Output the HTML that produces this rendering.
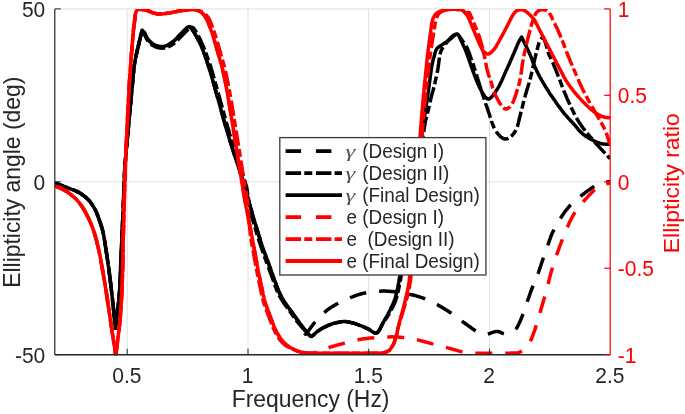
<!DOCTYPE html>
<html><head><meta charset="utf-8"><title>Ellipticity</title>
<style>html,body{margin:0;padding:0;background:#fff}body{width:685px;height:414px;overflow:hidden}</style></head>
<body>
<svg width="685" height="414" viewBox="0 0 685 414" style="display:block">
<rect width="685" height="414" fill="#fff"/>
<line x1="127.2" y1="8.9" x2="127.2" y2="354.7" stroke="#dfdfdf" stroke-width="1"/>
<line x1="248.0" y1="8.9" x2="248.0" y2="354.7" stroke="#dfdfdf" stroke-width="1"/>
<line x1="368.7" y1="8.9" x2="368.7" y2="354.7" stroke="#dfdfdf" stroke-width="1"/>
<line x1="489.5" y1="8.9" x2="489.5" y2="354.7" stroke="#dfdfdf" stroke-width="1"/>
<line x1="54.8" y1="8.9" x2="610.2" y2="8.9" stroke="#dfdfdf" stroke-width="1"/>
<line x1="54.8" y1="181.8" x2="610.2" y2="181.8" stroke="#dfdfdf" stroke-width="1"/>
<clipPath id="c"><rect x="54.8" y="8.9" width="555.4000000000001" height="346.4"/></clipPath>
<g clip-path="url(#c)">
<path d="M54.8,182.8 L55.9,183.3 L57.0,183.7 L58.1,184.2 L59.3,184.6 L60.4,185.0 L61.5,185.5 L62.6,185.9 L63.7,186.4 L64.9,186.8 L66.0,187.2 L67.1,187.7 L68.2,188.1 L69.4,188.5 L70.5,188.9 L71.6,189.3 L72.7,189.7 L73.9,190.1 L75.0,190.6 L76.1,191.0 L77.2,191.6 L78.2,192.1 L79.3,192.7 L80.3,193.3 L81.3,194.0 L82.3,194.7 L83.3,195.4 L84.3,196.1 L85.2,196.9 L86.2,197.7 L87.0,198.5 L87.9,199.3 L88.7,200.2 L89.5,201.1 L90.3,202.0 L91.0,203.0 L91.7,204.0 L92.4,205.0 L93.0,206.0 L93.7,207.1 L94.3,208.1 L94.9,209.1 L95.4,210.2 L95.9,211.3 L96.4,212.4 L96.9,213.5 L97.3,214.6 L97.8,215.7 L98.2,216.9 L98.6,218.0 L99.0,219.1 L99.4,220.2 L99.8,221.4 L100.2,222.5 L100.6,223.7 L100.9,224.8 L101.3,226.0 L101.7,227.1 L102.0,228.3 L102.3,229.4 L102.7,230.6 L102.9,231.7 L103.2,232.9 L103.4,234.1 L103.7,235.3 L103.9,236.5 L104.1,237.7 L104.3,238.8 L104.5,240.0 L104.7,241.2 L104.9,242.4 L105.1,243.6 L105.3,244.8 L105.4,246.0 L105.6,247.1 L105.8,248.3 L106.0,249.5 L106.2,250.7 L106.3,251.9 L106.5,253.1 L106.7,254.3 L106.9,255.5 L107.0,256.7 L107.2,257.8 L107.4,259.0 L107.6,260.2 L107.7,261.4 L107.9,262.6 L108.1,263.8 L108.2,265.0 L108.4,266.2 L108.6,267.4 L108.7,268.6 L108.9,269.8 L109.1,270.9 L109.2,272.1 L109.4,273.3 L109.5,274.5 L109.7,275.7 L109.8,276.9 L110.0,278.1 L110.1,279.3 L110.3,280.5 L110.4,281.7 L110.6,282.9 L110.7,284.1 L110.8,285.3 L111.0,286.5 L111.1,287.6 L111.3,288.8 L111.4,290.0 L111.5,291.2 L111.7,292.4 L111.8,293.6 L111.9,294.8 L112.1,296.0 L112.2,297.2 L112.4,298.4 L112.5,299.6 L112.6,300.8 L112.7,302.0 L112.9,303.2 L113.0,304.4 L113.1,305.6 L113.3,306.8 L113.4,308.0 L113.5,309.2 L113.6,310.4 L113.8,311.5 L113.9,312.7 L114.0,313.9 L114.1,315.1 L114.2,316.3 L114.4,317.5 L114.5,318.7 L114.6,319.9 L114.7,321.1 L114.8,322.3 L115.0,323.5 L115.1,324.7 L115.2,325.9 L115.3,327.1 L115.4,328.3 L115.5,327.1 L115.7,325.9 L115.8,324.7 L116.0,323.5 L116.1,322.3 L116.3,321.1 L116.4,319.9 L116.6,318.7 L116.7,317.5 L116.8,316.3 L117.0,315.2 L117.1,314.0 L117.3,312.8 L117.4,311.6 L117.6,310.4 L117.7,309.2 L117.8,308.0 L118.0,306.8 L118.1,305.6 L118.3,304.4 L118.4,303.2 L118.6,302.0 L118.7,300.8 L118.8,299.6 L119.0,298.4 L119.1,297.2 L119.2,296.0 L119.3,294.8 L119.4,293.6 L119.5,292.4 L119.6,291.2 L119.7,290.0 L119.7,288.8 L119.8,287.6 L119.9,286.4 L119.9,285.2 L120.0,284.0 L120.0,282.8 L120.1,281.6 L120.1,280.4 L120.2,279.2 L120.2,278.0 L120.2,276.8 L120.3,275.6 L120.3,274.4 L120.4,273.2 L120.4,272.0 L120.5,270.8 L120.5,269.6 L120.6,268.4 L120.6,267.2 L120.7,266.0 L120.7,264.8 L120.8,263.6 L120.8,262.4 L120.9,261.1 L121.0,259.9 L121.0,258.7 L121.1,257.5 L121.1,256.3 L121.2,255.1 L121.2,253.9 L121.3,252.7 L121.3,251.5 L121.4,250.3 L121.4,249.1 L121.5,247.9 L121.5,246.7 L121.6,245.5 L121.6,244.3 L121.7,243.1 L121.7,241.9 L121.8,240.7 L121.9,239.5 L121.9,238.3 L122.0,237.1 L122.0,235.9 L122.1,234.7 L122.1,233.5 L122.2,232.3 L122.2,231.1 L122.3,229.9 L122.3,228.7 L122.4,227.5 L122.4,226.3 L122.5,225.1 L122.5,223.9 L122.6,222.7 L122.6,221.5 L122.7,220.3 L122.7,219.1 L122.8,217.9 L122.8,216.7 L122.9,215.4 L122.9,214.2 L123.0,213.0 L123.0,211.8 L123.1,210.6 L123.1,209.4 L123.2,208.2 L123.2,207.0 L123.3,205.8 L123.3,204.6 L123.4,203.4 L123.4,202.2 L123.5,201.0 L123.5,199.8 L123.6,198.6 L123.6,197.4 L123.7,196.2 L123.7,195.0 L123.7,193.8 L123.8,192.6 L123.8,191.4 L123.9,190.2 L123.9,189.0 L124.0,187.8 L124.0,186.6 L124.0,185.4 L124.1,184.2 L124.1,183.0 L124.2,181.8 L124.2,180.6 L124.3,179.4 L124.3,178.2 L124.4,177.0 L124.4,175.8 L124.5,174.6 L124.5,173.4 L124.6,172.1 L124.7,170.9 L124.7,169.7 L124.8,168.5 L124.9,167.3 L124.9,166.1 L125.0,164.9 L125.1,163.7 L125.2,162.5 L125.3,161.3 L125.4,160.1 L125.5,158.9 L125.6,157.7 L125.7,156.5 L125.8,155.3 L126.0,154.1 L126.1,152.9 L126.2,151.7 L126.3,150.5 L126.4,149.3 L126.5,148.2 L126.6,147.0 L126.7,145.8 L126.9,144.6 L127.0,143.4 L127.1,142.2 L127.2,141.0 L127.3,139.8 L127.4,138.6 L127.5,137.4 L127.6,136.2 L127.7,135.0 L127.8,133.8 L127.9,132.6 L128.0,131.4 L128.1,130.2 L128.2,129.0 L128.4,127.8 L128.5,126.6 L128.6,125.4 L128.7,124.2 L128.8,123.0 L128.9,121.8 L129.0,120.6 L129.1,119.4 L129.2,118.2 L129.3,117.0 L129.4,115.8 L129.5,114.6 L129.6,113.4 L129.8,112.2 L129.9,111.0 L130.0,109.8 L130.1,108.6 L130.2,107.4 L130.3,106.2 L130.4,105.0 L130.6,103.8 L130.7,102.6 L130.8,101.4 L130.9,100.2 L131.0,99.0 L131.1,97.8 L131.3,96.6 L131.4,95.4 L131.5,94.2 L131.6,93.0 L131.7,91.8 L131.8,90.6 L132.0,89.4 L132.1,88.2 L132.2,87.0 L132.3,85.8 L132.4,84.6 L132.5,83.4 L132.6,82.2 L132.7,81.0 L132.8,79.8 L132.9,78.6 L133.0,77.4 L133.1,76.2 L133.2,75.0 L133.3,73.8 L133.5,72.6 L133.6,71.4 L133.7,70.2 L133.8,69.0 L134.0,67.8 L134.1,66.6 L134.3,65.4 L134.5,64.3 L134.7,63.1 L134.9,61.9 L135.1,60.7 L135.3,59.5 L135.5,58.3 L135.8,57.1 L136.0,56.0 L136.3,54.8 L136.5,53.6 L136.8,52.4 L137.1,51.3 L137.3,50.1 L137.6,48.9 L137.9,47.8 L138.2,46.6 L138.4,45.4 L138.7,44.2 L139.0,43.1 L139.2,41.9 L139.5,40.7 L139.8,39.5 L140.0,38.4 L140.3,37.2 L140.6,36.0 L140.8,34.8 L141.1,33.7 L141.4,32.5 L141.8,31.4 L142.1,30.2 L143.0,31.1 L143.8,32.0 L144.5,32.9 L145.1,34.0 L145.6,35.1 L146.1,36.2 L146.6,37.3 L147.2,38.3 L147.9,39.3 L148.7,40.2 L149.5,41.1 L150.3,41.9 L151.2,42.7 L152.2,43.5 L153.3,44.2 L154.5,44.8 L155.6,45.4 L156.8,45.8 L157.9,46.1 L159.1,46.3 L160.3,46.5 L161.4,46.5 L162.6,46.5 L163.8,46.4 L165.0,46.1 L166.2,45.8 L167.4,45.3 L168.5,44.7 L169.6,44.1 L170.6,43.4 L171.6,42.7 L172.6,42.0 L173.5,41.3 L174.4,40.5 L175.3,39.7 L176.1,38.8 L177.0,38.0 L177.8,37.1 L178.6,36.2 L179.4,35.3 L180.3,34.4 L181.1,33.5 L181.9,32.7 L182.7,31.8 L183.6,30.9 L184.4,30.0 L185.3,29.2 L186.1,28.3 L187.1,27.6 L188.1,27.0 L189.3,26.6 L190.3,27.3 L191.2,28.1 L191.9,29.1 L192.6,30.1 L193.2,31.1 L193.9,32.1 L194.5,33.1 L195.1,34.1 L195.7,35.2 L196.3,36.2 L196.9,37.3 L197.4,38.3 L198.0,39.4 L198.5,40.5 L199.1,41.6 L199.6,42.6 L200.1,43.7 L200.6,44.8 L201.1,45.9 L201.6,47.0 L202.0,48.1 L202.5,49.2 L203.0,50.3 L203.4,51.5 L203.8,52.6 L204.2,53.7 L204.7,54.8 L205.1,56.0 L205.5,57.1 L205.9,58.2 L206.3,59.4 L206.7,60.5 L207.0,61.6 L207.4,62.8 L207.8,63.9 L208.2,65.1 L208.5,66.2 L208.9,67.3 L209.3,68.5 L209.6,69.6 L209.9,70.8 L210.3,71.9 L210.6,73.1 L210.9,74.3 L211.3,75.4 L211.6,76.6 L211.9,77.7 L212.3,78.9 L212.6,80.0 L212.9,81.2 L213.3,82.3 L213.6,83.5 L213.9,84.6 L214.3,85.8 L214.6,86.9 L214.9,88.1 L215.2,89.3 L215.6,90.4 L215.9,91.6 L216.2,92.7 L216.6,93.9 L216.9,95.0 L217.2,96.2 L217.5,97.3 L217.9,98.5 L218.2,99.6 L218.5,100.8 L218.8,102.0 L219.2,103.1 L219.5,104.3 L219.8,105.4 L220.1,106.6 L220.4,107.7 L220.7,108.9 L221.1,110.1 L221.4,111.2 L221.7,112.4 L222.0,113.5 L222.3,114.7 L222.7,115.8 L223.0,117.0 L223.3,118.2 L223.6,119.3 L223.9,120.5 L224.3,121.6 L224.6,122.8 L224.9,123.9 L225.3,125.1 L225.6,126.2 L225.9,127.4 L226.3,128.6 L226.6,129.7 L226.9,130.9 L227.3,132.0 L227.6,133.2 L228.0,134.3 L228.3,135.5 L228.7,136.6 L229.0,137.7 L229.4,138.9 L229.7,140.0 L230.1,141.2 L230.5,142.3 L230.8,143.5 L231.2,144.6 L231.6,145.8 L231.9,146.9 L232.3,148.0 L232.6,149.2 L233.0,150.3 L233.4,151.5 L233.7,152.6 L234.1,153.8 L234.5,154.9 L234.8,156.1 L235.2,157.2 L235.6,158.3 L235.9,159.5 L236.3,160.6 L236.7,161.8 L237.1,162.9 L237.5,164.0 L237.8,165.2 L238.2,166.3 L238.6,167.5 L239.0,168.6 L239.4,169.7 L239.7,170.9 L240.1,172.0 L240.5,173.2 L240.9,174.3 L241.2,175.4 L241.6,176.6 L242.0,177.7 L242.3,178.9 L242.7,180.0 L243.0,181.2 L243.4,182.3 L243.7,183.5 L244.1,184.6 L244.4,185.8 L244.8,186.9 L245.1,188.1 L245.4,189.2 L245.8,190.4 L246.1,191.5 L246.4,192.7 L246.7,193.8 L247.1,195.0 L247.4,196.1 L247.7,197.3 L248.0,198.5 L248.3,199.6 L248.7,200.8 L249.0,201.9 L249.3,203.1 L249.6,204.2 L250.0,205.4 L250.3,206.6 L250.6,207.7 L251.0,208.9 L251.3,210.0 L251.6,211.2 L252.0,212.3 L252.3,213.5 L252.6,214.6 L253.0,215.8 L253.3,216.9 L253.6,218.1 L254.0,219.2 L254.3,220.4 L254.7,221.5 L255.0,222.7 L255.3,223.8 L255.7,225.0 L256.0,226.1 L256.4,227.3 L256.7,228.4 L257.1,229.6 L257.4,230.7 L257.8,231.9 L258.1,233.0 L258.5,234.2 L258.8,235.3 L259.2,236.5 L259.5,237.6 L259.9,238.8 L260.2,239.9 L260.6,241.1 L261.0,242.2 L261.4,243.3 L261.7,244.5 L262.1,245.6 L262.5,246.8 L262.9,247.9 L263.3,249.0 L263.7,250.2 L264.1,251.3 L264.5,252.4 L264.9,253.5 L265.3,254.7 L265.7,255.8 L266.1,256.9 L266.5,258.1 L266.9,259.2 L267.4,260.3 L267.8,261.4 L268.2,262.6 L268.6,263.7 L269.0,264.8 L269.4,265.9 L269.9,267.1 L270.3,268.2 L270.7,269.3 L271.1,270.4 L271.5,271.6 L271.9,272.7 L272.4,273.8 L272.8,274.9 L273.2,276.1 L273.6,277.2 L274.0,278.3 L274.4,279.5 L274.8,280.6 L275.2,281.7 L275.6,282.9 L276.0,284.0 L276.4,285.1 L276.8,286.3 L277.2,287.4 L277.6,288.5 L278.1,289.6 L278.5,290.8 L279.0,291.9 L279.5,292.9 L280.0,294.0 L280.6,295.1 L281.1,296.1 L281.7,297.2 L282.3,298.2 L283.0,299.3 L283.6,300.3 L284.2,301.3 L284.8,302.3 L285.5,303.3 L286.2,304.3 L286.9,305.3 L287.6,306.3 L288.3,307.3 L289.0,308.2 L289.7,309.2 L290.4,310.2 L291.1,311.1 L291.8,312.1 L292.5,313.1 L293.2,314.0 L293.9,315.0 L294.6,316.0 L295.3,317.0 L296.0,317.9 L296.7,318.9 L297.4,319.9 L298.1,320.9 L298.9,321.8 L299.6,322.8 L300.3,323.7 L301.0,324.7 L301.8,325.6 L302.5,326.6 L302.6,327.9 L302.7,329.1 L302.9,330.2 L303.3,331.3 L303.9,332.4 L304.7,333.6 L305.6,334.2 L306.4,333.4 L307.2,332.4 L307.9,331.5 L308.7,330.5 L309.4,329.5 L310.1,328.6 L310.8,327.6 L311.5,326.6 L312.2,325.7 L312.9,324.7 L313.7,323.8 L314.4,322.8 L315.2,321.9 L316.0,321.0 L316.8,320.1 L317.6,319.2 L318.4,318.4 L319.2,317.5 L320.1,316.6 L320.9,315.8 L321.8,315.0 L322.7,314.1 L323.5,313.3 L324.4,312.5 L325.3,311.7 L326.2,310.9 L327.1,310.1 L328.1,309.4 L329.1,308.7 L330.1,308.0 L331.1,307.3 L332.1,306.7 L333.1,306.1 L334.2,305.5 L335.2,304.9 L336.3,304.3 L337.3,303.8 L338.4,303.2 L339.5,302.7 L340.5,302.1 L341.6,301.6 L342.7,301.1 L343.8,300.6 L344.9,300.1 L346.0,299.6 L347.1,299.1 L348.2,298.6 L349.3,298.1 L350.4,297.6 L351.5,297.2 L352.6,296.8 L353.7,296.3 L354.8,295.9 L356.0,295.5 L357.1,295.1 L358.2,294.7 L359.4,294.4 L360.6,294.0 L361.7,293.7 L362.9,293.4 L364.1,293.1 L365.3,292.9 L366.4,292.6 L367.6,292.4 L368.8,292.2 L370.0,292.1 L371.2,291.9 L372.4,291.8 L373.6,291.6 L374.7,291.5 L375.9,291.4 L377.1,291.3 L378.3,291.3 L379.5,291.2 L380.7,291.2 L382.0,291.1 L383.2,291.1 L384.4,291.1 L385.6,291.1 L386.8,291.2 L388.0,291.2 L389.2,291.3 L390.4,291.4 L391.6,291.5 L392.7,291.6 L393.9,291.7 L395.1,291.8 L396.3,292.0 L397.5,292.1 L398.7,292.3 L399.9,292.5 L401.1,292.6 L402.3,292.8 L403.4,293.0 L404.6,293.3 L405.8,293.5 L407.0,293.7 L408.2,294.0 L409.3,294.2 L410.5,294.5 L411.7,294.7 L412.9,295.0 L414.0,295.3 L415.2,295.6 L416.4,295.9 L417.5,296.3 L418.7,296.6 L419.8,296.9 L420.9,297.3 L422.1,297.7 L423.2,298.1 L424.3,298.5 L425.5,299.0 L426.6,299.5 L427.7,299.9 L428.8,300.4 L429.9,300.9 L431.0,301.4 L432.0,302.0 L433.1,302.5 L434.2,303.0 L435.2,303.6 L436.3,304.2 L437.4,304.7 L438.4,305.3 L439.4,305.9 L440.5,306.5 L441.5,307.1 L442.6,307.7 L443.6,308.3 L444.6,309.0 L445.7,309.6 L446.7,310.2 L447.7,310.8 L448.7,311.5 L449.7,312.2 L450.7,312.8 L451.7,313.5 L452.7,314.2 L453.6,314.9 L454.6,315.6 L455.6,316.4 L456.5,317.1 L457.5,317.8 L458.4,318.5 L459.4,319.2 L460.4,320.0 L461.3,320.7 L462.3,321.4 L463.2,322.1 L464.2,322.8 L465.2,323.5 L466.2,324.2 L467.1,324.9 L468.1,325.6 L469.1,326.3 L470.1,327.0 L471.0,327.7 L472.0,328.4 L473.0,329.1 L474.0,329.8 L475.0,330.5 L476.0,331.2 L477.0,331.8 L478.0,332.4 L479.0,333.0 L480.2,333.5 L481.3,333.9 L482.5,334.2 L483.7,334.4 L484.9,334.4 L486.1,334.4 L487.3,334.2 L488.4,333.9 L489.6,333.5 L490.7,333.1 L491.8,332.7 L492.9,332.3 L494.1,331.9 L495.3,331.6 L496.4,331.4 L497.6,331.4 L498.8,331.7 L500.0,332.1 L501.1,332.6 L502.2,333.1 L503.3,333.5 L504.5,333.8 L505.6,334.0 L506.8,333.9 L508.0,333.7 L509.2,333.4 L510.3,332.9 L511.4,332.4 L512.4,331.7 L513.4,331.1 L514.4,330.3 L515.4,329.6 L516.2,328.7 L516.9,327.7 L517.5,326.6 L518.0,325.6 L518.6,324.5 L519.1,323.4 L519.6,322.3 L520.1,321.2 L520.6,320.1 L521.1,319.0 L521.5,317.9 L522.0,316.8 L522.4,315.7 L522.8,314.6 L523.3,313.5 L523.7,312.3 L524.1,311.2 L524.5,310.1 L524.9,308.9 L525.3,307.8 L525.6,306.7 L526.0,305.5 L526.4,304.4 L526.8,303.2 L527.2,302.1 L527.5,301.0 L527.9,299.8 L528.3,298.7 L528.7,297.6 L529.1,296.4 L529.5,295.3 L529.9,294.1 L530.3,293.0 L530.7,291.9 L531.1,290.8 L531.5,289.7 L532.0,288.5 L532.4,287.4 L532.9,286.3 L533.4,285.2 L533.8,284.1 L534.3,283.0 L534.8,281.9 L535.2,280.8 L535.7,279.7 L536.2,278.6 L536.6,277.5 L537.0,276.3 L537.5,275.2 L537.9,274.1 L538.3,273.0 L538.7,271.8 L539.0,270.7 L539.4,269.5 L539.8,268.4 L540.2,267.3 L540.6,266.1 L541.0,265.0 L541.3,263.9 L541.7,262.7 L542.1,261.6 L542.5,260.4 L542.9,259.3 L543.2,258.2 L543.6,257.0 L544.0,255.9 L544.4,254.8 L544.8,253.6 L545.2,252.5 L545.6,251.4 L546.0,250.2 L546.4,249.1 L546.8,248.0 L547.2,246.8 L547.6,245.7 L548.0,244.6 L548.4,243.4 L548.8,242.3 L549.2,241.2 L549.6,240.0 L550.0,238.9 L550.4,237.8 L550.8,236.7 L551.3,235.5 L551.7,234.4 L552.2,233.3 L552.7,232.2 L553.2,231.1 L553.7,230.1 L554.2,229.0 L554.8,227.9 L555.4,226.9 L555.9,225.8 L556.5,224.8 L557.1,223.7 L557.7,222.7 L558.4,221.7 L559.0,220.6 L559.6,219.6 L560.3,218.6 L561.0,217.6 L561.6,216.6 L562.3,215.6 L563.0,214.6 L563.7,213.6 L564.4,212.6 L565.1,211.6 L565.8,210.6 L566.5,209.7 L567.3,208.7 L568.1,207.8 L568.8,206.9 L569.6,206.0 L570.4,205.1 L571.3,204.2 L572.1,203.4 L573.0,202.6 L573.9,201.8 L574.8,201.0 L575.7,200.2 L576.6,199.4 L577.6,198.6 L578.5,197.9 L579.4,197.1 L580.4,196.4 L581.3,195.7 L582.3,194.9 L583.2,194.2 L584.2,193.5 L585.1,192.7 L586.1,192.0 L587.0,191.3 L588.0,190.6 L589.0,189.9 L590.0,189.2 L591.0,188.5 L592.0,187.8 L593.0,187.2 L594.0,186.6 L595.0,185.9 L596.1,185.4 L597.2,184.9 L598.2,184.4 L599.4,184.0 L600.5,183.6 L601.6,183.2 L602.8,182.9 L604.0,182.6 L605.2,182.4 L606.4,182.1 L607.6,181.9 L608.8,181.7 L610.0,181.5" fill="none" stroke="#000000" stroke-width="3.5" stroke-linejoin="round" stroke-dasharray="17 13" stroke-dashoffset="6.8"/>
<path d="M54.8,182.8 L55.9,183.3 L57.0,183.7 L58.1,184.2 L59.3,184.6 L60.4,185.0 L61.5,185.5 L62.6,185.9 L63.7,186.4 L64.9,186.8 L66.0,187.2 L67.1,187.7 L68.2,188.1 L69.4,188.5 L70.5,188.9 L71.6,189.3 L72.7,189.7 L73.9,190.1 L75.0,190.6 L76.1,191.0 L77.2,191.6 L78.2,192.1 L79.3,192.7 L80.3,193.3 L81.3,194.0 L82.3,194.7 L83.3,195.4 L84.3,196.1 L85.2,196.9 L86.2,197.7 L87.0,198.5 L87.9,199.3 L88.7,200.2 L89.5,201.1 L90.3,202.0 L91.0,203.0 L91.7,204.0 L92.4,205.0 L93.0,206.0 L93.7,207.1 L94.3,208.1 L94.9,209.1 L95.4,210.2 L95.9,211.3 L96.4,212.4 L96.9,213.5 L97.3,214.6 L97.8,215.7 L98.2,216.9 L98.6,218.0 L99.0,219.1 L99.4,220.2 L99.8,221.4 L100.2,222.5 L100.6,223.7 L100.9,224.8 L101.3,226.0 L101.7,227.1 L102.0,228.3 L102.3,229.4 L102.7,230.6 L102.9,231.7 L103.2,232.9 L103.4,234.1 L103.7,235.3 L103.9,236.5 L104.1,237.7 L104.3,238.8 L104.5,240.0 L104.7,241.2 L104.9,242.4 L105.1,243.6 L105.3,244.8 L105.4,246.0 L105.6,247.1 L105.8,248.3 L106.0,249.5 L106.2,250.7 L106.3,251.9 L106.5,253.1 L106.7,254.3 L106.9,255.5 L107.0,256.7 L107.2,257.8 L107.4,259.0 L107.6,260.2 L107.7,261.4 L107.9,262.6 L108.1,263.8 L108.2,265.0 L108.4,266.2 L108.6,267.4 L108.7,268.6 L108.9,269.8 L109.1,270.9 L109.2,272.1 L109.4,273.3 L109.5,274.5 L109.7,275.7 L109.8,276.9 L110.0,278.1 L110.1,279.3 L110.3,280.5 L110.4,281.7 L110.6,282.9 L110.7,284.1 L110.8,285.3 L111.0,286.5 L111.1,287.6 L111.3,288.8 L111.4,290.0 L111.5,291.2 L111.7,292.4 L111.8,293.6 L111.9,294.8 L112.1,296.0 L112.2,297.2 L112.4,298.4 L112.5,299.6 L112.6,300.8 L112.7,302.0 L112.9,303.2 L113.0,304.4 L113.1,305.6 L113.3,306.8 L113.4,308.0 L113.5,309.2 L113.6,310.4 L113.8,311.5 L113.9,312.7 L114.0,313.9 L114.1,315.1 L114.2,316.3 L114.4,317.5 L114.5,318.7 L114.6,319.9 L114.7,321.1 L114.8,322.3 L115.0,323.5 L115.1,324.7 L115.2,325.9 L115.3,327.1 L115.4,328.3 L115.5,327.1 L115.7,325.9 L115.8,324.7 L116.0,323.5 L116.1,322.3 L116.3,321.1 L116.4,319.9 L116.6,318.7 L116.7,317.5 L116.8,316.3 L117.0,315.2 L117.1,314.0 L117.3,312.8 L117.4,311.6 L117.6,310.4 L117.7,309.2 L117.8,308.0 L118.0,306.8 L118.1,305.6 L118.3,304.4 L118.4,303.2 L118.6,302.0 L118.7,300.8 L118.8,299.6 L119.0,298.4 L119.1,297.2 L119.2,296.0 L119.3,294.8 L119.4,293.6 L119.5,292.4 L119.6,291.2 L119.7,290.0 L119.7,288.8 L119.8,287.6 L119.9,286.4 L119.9,285.2 L120.0,284.0 L120.0,282.8 L120.1,281.6 L120.1,280.4 L120.2,279.2 L120.2,278.0 L120.2,276.8 L120.3,275.6 L120.3,274.4 L120.4,273.2 L120.4,272.0 L120.5,270.8 L120.5,269.6 L120.6,268.4 L120.6,267.2 L120.7,266.0 L120.7,264.8 L120.8,263.6 L120.8,262.4 L120.9,261.1 L121.0,259.9 L121.0,258.7 L121.1,257.5 L121.1,256.3 L121.2,255.1 L121.2,253.9 L121.3,252.7 L121.3,251.5 L121.4,250.3 L121.4,249.1 L121.5,247.9 L121.5,246.7 L121.6,245.5 L121.6,244.3 L121.7,243.1 L121.7,241.9 L121.8,240.7 L121.9,239.5 L121.9,238.3 L122.0,237.1 L122.0,235.9 L122.1,234.7 L122.1,233.5 L122.2,232.3 L122.2,231.1 L122.3,229.9 L122.3,228.7 L122.4,227.5 L122.4,226.3 L122.5,225.1 L122.5,223.9 L122.6,222.7 L122.6,221.5 L122.7,220.3 L122.7,219.1 L122.8,217.9 L122.8,216.7 L122.9,215.4 L122.9,214.2 L123.0,213.0 L123.0,211.8 L123.1,210.6 L123.1,209.4 L123.2,208.2 L123.2,207.0 L123.3,205.8 L123.3,204.6 L123.4,203.4 L123.4,202.2 L123.5,201.0 L123.5,199.8 L123.6,198.6 L123.6,197.4 L123.7,196.2 L123.7,195.0 L123.7,193.8 L123.8,192.6 L123.8,191.4 L123.9,190.2 L123.9,189.0 L124.0,187.8 L124.0,186.6 L124.0,185.4 L124.1,184.2 L124.1,183.0 L124.2,181.8 L124.2,180.6 L124.3,179.4 L124.3,178.2 L124.4,177.0 L124.4,175.8 L124.5,174.6 L124.5,173.4 L124.6,172.1 L124.7,170.9 L124.7,169.7 L124.8,168.5 L124.9,167.3 L124.9,166.1 L125.0,164.9 L125.1,163.7 L125.2,162.5 L125.3,161.3 L125.4,160.1 L125.5,158.9 L125.6,157.7 L125.7,156.5 L125.8,155.3 L126.0,154.1 L126.1,152.9 L126.2,151.7 L126.3,150.5 L126.4,149.3 L126.5,148.2 L126.6,147.0 L126.7,145.8 L126.9,144.6 L127.0,143.4 L127.1,142.2 L127.2,141.0 L127.3,139.8 L127.4,138.6 L127.5,137.4 L127.6,136.2 L127.7,135.0 L127.8,133.8 L127.9,132.6 L128.0,131.4 L128.1,130.2 L128.2,129.0 L128.4,127.8 L128.5,126.6 L128.6,125.4 L128.7,124.2 L128.8,123.0 L128.9,121.8 L129.0,120.6 L129.1,119.4 L129.2,118.2 L129.3,117.0 L129.4,115.8 L129.5,114.6 L129.6,113.4 L129.8,112.2 L129.9,111.0 L130.0,109.8 L130.1,108.6 L130.2,107.4 L130.3,106.2 L130.4,105.0 L130.6,103.8 L130.7,102.6 L130.8,101.4 L130.9,100.2 L131.0,99.0 L131.1,97.8 L131.3,96.6 L131.4,95.4 L131.5,94.2 L131.6,93.0 L131.7,91.8 L131.8,90.6 L132.0,89.4 L132.1,88.2 L132.2,87.0 L132.3,85.8 L132.4,84.6 L132.5,83.4 L132.6,82.2 L132.7,81.0 L132.8,79.8 L132.9,78.6 L133.0,77.4 L133.1,76.2 L133.2,75.0 L133.3,73.8 L133.5,72.6 L133.6,71.4 L133.7,70.2 L133.8,69.0 L134.0,67.8 L134.1,66.6 L134.3,65.4 L134.5,64.3 L134.7,63.1 L134.9,61.9 L135.1,60.7 L135.3,59.6 L135.5,58.4 L135.8,57.3 L136.0,56.2 L136.3,55.0 L136.5,53.9 L136.8,52.8 L137.1,51.6 L137.3,50.5 L137.6,49.4 L137.9,48.3 L138.2,47.2 L138.4,46.0 L138.7,44.9 L139.0,43.8 L139.2,42.6 L139.5,41.5 L139.8,40.4 L140.0,39.3 L140.3,38.1 L140.6,37.0 L140.8,35.9 L141.1,34.8 L141.4,33.7 L141.8,32.6 L142.1,31.5 L143.0,32.5 L143.8,33.6 L144.5,34.7 L145.1,35.8 L145.6,36.9 L146.1,38.0 L146.6,39.1 L147.3,40.1 L148.0,41.1 L148.8,42.0 L149.6,42.9 L150.5,43.7 L151.5,44.5 L152.5,45.2 L153.7,45.9 L154.9,46.6 L156.1,47.1 L157.3,47.5 L158.5,47.8 L159.7,48.0 L160.9,48.1 L162.1,48.2 L163.3,48.1 L164.6,48.0 L165.8,47.8 L167.0,47.4 L168.3,46.9 L169.5,46.3 L170.6,45.7 L171.7,45.0 L172.7,44.3 L173.7,43.6 L174.7,42.9 L175.6,42.1 L176.5,41.3 L177.4,40.4 L178.3,39.5 L179.1,38.6 L180.0,37.7 L180.8,36.8 L181.7,35.9 L182.5,35.0 L183.4,34.2 L184.4,33.2 L185.3,32.2 L186.3,31.2 L187.3,30.3 L188.3,29.3 L189.4,28.4 L190.6,27.7 L192.0,27.2 L193.1,27.8 L193.9,28.6 L194.6,29.5 L195.2,30.4 L195.8,31.4 L196.4,32.4 L196.9,33.4 L197.5,34.4 L198.1,35.4 L198.6,36.4 L199.1,37.4 L199.6,38.5 L200.2,39.5 L200.6,40.6 L201.1,41.6 L201.6,42.7 L202.1,43.7 L202.6,44.8 L203.1,45.9 L203.6,47.0 L204.0,48.1 L204.5,49.2 L204.9,50.3 L205.4,51.5 L205.8,52.6 L206.2,53.7 L206.6,54.8 L207.0,56.0 L207.4,57.1 L207.8,58.2 L208.2,59.4 L208.6,60.5 L209.0,61.6 L209.4,62.8 L209.8,63.9 L210.1,65.1 L210.5,66.2 L210.9,67.3 L211.2,68.5 L211.6,69.6 L211.9,70.8 L212.2,71.9 L212.6,73.1 L212.9,74.3 L213.2,75.4 L213.6,76.6 L213.9,77.7 L214.2,78.9 L214.5,80.0 L214.9,81.2 L215.2,82.3 L215.5,83.5 L215.9,84.6 L216.2,85.8 L216.5,86.9 L216.8,88.1 L217.2,89.3 L217.5,90.4 L217.8,91.6 L218.2,92.7 L218.5,93.9 L218.8,95.0 L219.1,96.2 L219.5,97.3 L219.8,98.5 L220.1,99.6 L220.4,100.8 L220.7,102.0 L221.1,103.1 L221.4,104.3 L221.7,105.4 L222.0,106.6 L222.3,107.7 L222.7,108.9 L223.0,110.1 L223.3,111.2 L223.6,112.4 L223.9,113.5 L224.2,114.7 L224.6,115.8 L224.9,117.0 L225.2,118.2 L225.5,119.3 L225.8,120.5 L226.2,121.6 L226.5,122.8 L226.8,123.9 L227.1,125.1 L227.5,126.2 L227.8,127.4 L228.1,128.6 L228.5,129.7 L228.8,130.9 L229.2,132.0 L229.5,133.2 L229.8,134.3 L230.2,135.5 L230.5,136.6 L230.9,137.7 L231.3,138.9 L231.6,140.0 L232.0,141.2 L232.3,142.3 L232.7,143.5 L233.1,144.6 L233.4,145.8 L233.8,146.9 L234.1,148.0 L234.5,149.2 L234.9,150.3 L235.2,151.5 L235.6,152.6 L236.0,153.8 L236.3,154.9 L236.7,156.1 L237.0,157.2 L237.4,158.3 L237.8,159.5 L238.2,160.6 L238.5,161.8 L238.9,162.9 L239.3,164.0 L239.7,165.2 L240.0,166.3 L240.4,167.5 L240.8,168.6 L241.2,169.7 L241.6,170.9 L241.9,172.0 L242.3,173.2 L242.7,174.3 L243.0,175.4 L243.4,176.6 L243.8,177.7 L244.1,178.9 L244.5,180.0 L244.9,181.2 L245.2,182.3 L245.5,183.5 L245.9,184.6 L246.2,185.8 L246.6,186.9 L246.8,188.1 L247.0,189.2 L247.2,190.4 L247.4,191.5 L247.5,192.7 L247.7,193.8 L247.9,195.0 L248.1,196.1 L248.2,197.3 L248.4,198.5 L248.6,199.6 L248.7,200.8 L248.9,201.9 L249.1,203.1 L249.3,204.2 L249.4,205.4 L249.6,206.6 L249.8,207.7 L249.9,208.9 L250.1,210.0 L250.3,211.2 L250.5,212.3 L250.8,213.5 L251.1,214.6 L251.5,215.8 L251.8,216.9 L252.1,218.1 L252.5,219.2 L252.8,220.4 L253.2,221.5 L253.5,222.7 L253.8,223.8 L254.2,225.0 L254.5,226.1 L254.9,227.3 L255.2,228.4 L255.6,229.6 L255.9,230.7 L256.3,231.9 L256.6,233.0 L257.0,234.2 L257.3,235.3 L257.7,236.5 L258.0,237.6 L258.4,238.8 L258.7,239.9 L259.1,241.1 L259.5,242.2 L259.9,243.3 L260.2,244.5 L260.6,245.6 L261.0,246.8 L261.4,247.9 L261.8,249.0 L262.2,250.2 L262.6,251.3 L263.0,252.4 L263.4,253.5 L263.8,254.7 L264.2,255.8 L264.6,256.9 L265.0,258.1 L265.4,259.2 L265.9,260.3 L266.3,261.4 L266.7,262.6 L267.1,263.7 L267.5,264.8 L267.9,265.9 L268.4,267.1 L268.8,268.2 L269.2,269.3 L269.6,270.4 L270.0,271.6 L270.4,272.7 L270.9,273.8 L271.3,274.9 L271.7,276.1 L272.1,277.2 L272.5,278.3 L272.9,279.5 L273.3,280.6 L273.7,281.7 L274.1,282.9 L274.5,284.0 L274.9,285.1 L275.3,286.3 L275.7,287.4 L276.1,288.5 L276.6,289.6 L277.0,290.8 L277.5,291.9 L278.0,292.9 L278.5,294.0 L279.1,295.1 L279.6,296.1 L280.2,297.2 L280.8,298.2 L281.5,299.3 L282.1,300.3 L282.7,301.3 L283.3,302.3 L284.0,303.3 L284.7,304.3 L285.4,305.3 L286.1,306.3 L286.8,307.3 L287.5,308.2 L288.2,309.2 L288.9,310.2 L289.6,311.1 L290.3,312.1 L291.0,313.1 L291.7,314.0 L292.4,315.0 L293.1,316.0 L293.8,317.0 L294.5,317.9 L295.2,318.9 L295.9,319.9 L296.6,320.9 L297.4,321.8 L298.1,322.8 L298.8,323.7 L299.7,324.7 L300.5,325.6 L301.4,326.6 L302.2,327.5 L303.1,328.5 L303.9,329.4 L304.8,330.4 L305.7,331.3 L306.5,332.2 L307.4,333.2 L308.3,334.1 L309.2,335.0 L310.1,335.9 L311.2,336.4 L312.3,336.0 L313.3,335.2 L314.1,334.4 L315.0,333.5 L315.9,332.7 L316.8,332.0 L317.7,331.2 L318.7,330.5 L319.7,329.9 L320.7,329.2 L321.8,328.6 L322.8,328.0 L323.9,327.5 L325.0,326.9 L326.1,326.4 L327.1,325.9 L328.2,325.4 L329.3,325.0 L330.5,324.5 L331.6,324.1 L332.7,323.7 L333.9,323.3 L335.0,323.0 L336.2,322.7 L337.4,322.5 L338.6,322.3 L339.7,322.0 L340.9,321.8 L342.1,321.7 L343.3,321.6 L344.5,321.5 L345.7,321.6 L346.9,321.8 L348.1,321.9 L349.3,322.1 L350.4,322.4 L351.6,322.7 L352.7,323.0 L353.9,323.3 L355.1,323.6 L356.2,324.0 L357.3,324.4 L358.5,324.8 L359.6,325.3 L360.8,325.7 L361.9,326.1 L363.0,326.6 L364.1,327.1 L365.3,327.6 L366.3,328.1 L367.4,328.6 L368.5,329.1 L369.5,329.7 L370.5,330.4 L371.5,331.1 L372.5,331.8 L373.5,332.4 L374.6,332.9 L375.8,333.1 L377.0,332.8 L378.0,332.1 L378.7,331.1 L379.3,330.1 L379.9,329.1 L380.4,328.0 L381.0,326.9 L381.6,325.8 L382.2,324.7 L382.8,323.7 L383.5,322.6 L384.1,321.6 L384.8,320.5 L385.5,319.5 L386.2,318.5 L386.8,317.4 L387.5,316.4 L388.2,315.3 L388.8,314.3 L389.4,313.2 L390.1,312.2 L390.7,311.1 L391.3,310.0 L391.8,308.9 L392.3,307.9 L392.9,306.8 L393.4,305.7 L393.9,304.6 L394.4,303.5 L394.9,302.4 L395.3,301.3 L395.7,300.2 L396.1,299.0 L396.5,297.9 L396.8,296.7 L397.1,295.5 L397.4,294.4 L397.7,293.2 L398.0,292.0 L398.3,290.9 L398.5,289.7 L398.8,288.5 L399.0,287.3 L399.3,286.2 L399.5,285.0 L399.8,283.8 L400.0,282.6 L400.2,281.5 L400.4,280.3 L400.6,279.1 L400.8,277.9 L401.0,276.7 L401.2,275.5 L401.4,274.4 L401.6,273.2 L401.8,272.0 L401.9,270.8 L402.1,269.6 L402.3,268.4 L402.5,267.2 L402.7,266.1 L402.9,264.9 L403.1,263.7 L403.2,262.5 L403.4,261.3 L403.6,260.1 L403.8,258.9 L404.0,257.8 L404.2,256.6 L404.4,255.4 L404.5,254.2 L404.7,253.0 L404.9,251.8 L405.1,250.6 L405.3,249.4 L405.5,248.3 L405.6,247.1 L405.8,245.9 L406.0,244.7 L406.2,243.5 L406.4,242.3 L406.6,241.1 L406.8,240.0 L406.9,238.8 L407.1,237.6 L407.3,236.4 L407.5,235.2 L407.7,234.0 L407.9,232.8 L408.1,231.7 L408.2,230.5 L408.4,229.3 L408.6,228.1 L408.8,226.9 L409.0,225.7 L409.2,224.5 L409.3,223.3 L409.5,222.2 L409.7,221.0 L409.9,219.8 L410.1,218.6 L410.3,217.4 L410.5,216.2 L410.6,215.0 L410.8,213.9 L411.0,212.7 L411.2,211.5 L411.4,210.3 L411.6,209.1 L411.8,207.9 L411.9,206.7 L412.1,205.6 L412.3,204.4 L412.5,203.2 L412.7,202.0 L412.9,200.8 L413.1,199.6 L413.2,198.4 L413.4,197.2 L413.6,196.1 L413.8,194.9 L414.0,193.7 L414.2,192.5 L414.4,191.3 L414.5,190.1 L414.7,188.9 L414.9,187.8 L415.1,186.6 L415.3,185.4 L415.5,184.2 L415.7,183.0 L415.8,181.8 L416.0,180.6 L416.2,179.5 L416.4,178.3 L416.6,177.1 L416.8,175.9 L417.0,174.7 L417.1,173.5 L417.3,172.3 L417.5,171.2 L417.7,170.0 L417.9,168.8 L418.1,167.6 L418.3,166.4 L418.5,165.2 L418.6,164.0 L418.8,162.9 L419.0,161.7 L419.2,160.5 L419.4,159.3 L419.6,158.1 L419.8,156.9 L420.0,155.7 L420.1,154.5 L420.3,153.4 L420.5,152.2 L420.7,151.0 L420.9,149.8 L421.1,148.6 L421.3,147.4 L421.4,146.2 L421.6,145.1 L421.8,143.9 L422.0,142.7 L422.2,141.5 L422.4,140.3 L422.6,139.1 L422.8,137.9 L422.9,136.8 L423.1,135.6 L423.3,134.4 L423.5,133.2 L423.7,132.0 L423.9,130.8 L424.1,129.6 L424.2,128.5 L424.4,127.3 L424.6,126.1 L424.8,124.9 L425.0,123.7 L425.2,122.5 L425.3,121.3 L425.7,120.2 L426.0,119.0 L426.3,117.9 L426.6,116.7 L426.9,115.5 L427.2,114.4 L427.5,113.2 L427.8,112.0 L428.1,110.9 L428.4,109.7 L428.6,108.5 L428.9,107.4 L429.2,106.2 L429.4,105.0 L429.7,103.8 L429.9,102.7 L430.2,101.5 L430.5,100.3 L430.7,99.1 L431.0,98.0 L431.3,96.8 L431.6,95.6 L431.9,94.5 L432.2,93.3 L432.5,92.2 L432.9,91.0 L433.2,89.8 L433.5,88.7 L433.8,87.5 L434.1,86.4 L434.4,85.2 L434.7,84.0 L435.0,82.8 L435.2,81.7 L435.5,80.5 L435.7,79.3 L436.0,78.2 L436.3,77.0 L436.5,75.8 L436.8,74.6 L437.0,73.5 L437.2,72.3 L437.5,71.1 L437.7,69.9 L437.9,68.7 L438.1,67.5 L438.2,66.4 L438.4,65.2 L438.6,64.0 L438.7,62.8 L438.9,61.6 L439.0,60.4 L439.2,59.2 L439.4,58.0 L439.6,56.8 L439.8,55.6 L440.0,54.5 L440.3,53.3 L440.6,52.1 L441.0,51.0 L441.5,49.9 L442.1,48.8 L442.8,47.8 L443.5,46.8 L444.2,45.9 L444.9,44.9 L445.6,44.0 L446.4,43.0 L447.1,42.1 L447.8,41.2 L448.5,40.2 L449.3,39.3 L450.1,38.4 L451.0,37.5 L451.9,36.6 L452.9,35.8 L454.0,35.1 L455.0,34.7 L456.1,34.5 L457.2,34.8 L458.3,35.4 L459.3,36.3 L460.2,37.3 L460.8,38.2 L461.5,39.2 L462.1,40.2 L462.8,41.2 L463.5,42.2 L464.2,43.2 L464.8,44.2 L465.5,45.2 L466.1,46.2 L466.7,47.3 L467.3,48.4 L467.8,49.4 L468.2,50.6 L468.7,51.7 L469.1,52.8 L469.5,53.9 L469.9,55.1 L470.3,56.2 L470.7,57.3 L471.1,58.5 L471.5,59.6 L471.9,60.7 L472.3,61.9 L472.7,63.0 L473.1,64.2 L473.5,65.3 L473.8,66.4 L474.2,67.6 L474.6,68.7 L474.9,69.9 L475.3,71.0 L475.7,72.2 L476.0,73.3 L476.4,74.4 L476.8,75.6 L477.1,76.7 L477.5,77.9 L477.8,79.0 L478.2,80.2 L478.5,81.3 L478.9,82.5 L479.2,83.6 L479.6,84.8 L480.0,85.9 L480.3,87.1 L480.7,88.2 L481.0,89.4 L481.4,90.5 L481.7,91.7 L482.1,92.8 L482.5,94.0 L482.9,95.1 L483.2,96.2 L483.6,97.4 L484.0,98.5 L484.4,99.7 L484.8,100.8 L485.2,101.9 L485.6,103.1 L485.9,104.2 L486.3,105.4 L486.7,106.5 L487.1,107.6 L487.5,108.8 L487.8,109.9 L488.2,111.1 L488.6,112.2 L489.0,113.3 L489.4,114.5 L489.7,115.6 L490.1,116.8 L490.5,117.9 L490.9,119.0 L491.3,120.2 L491.6,121.3 L492.0,122.5 L492.4,123.6 L492.8,124.7 L493.2,125.7 L493.6,126.8 L494.1,127.9 L494.6,128.9 L495.2,129.9 L495.8,131.0 L496.5,132.0 L497.2,133.0 L498.1,134.0 L499.0,135.1 L500.0,136.1 L501.0,137.0 L502.0,137.8 L503.1,138.4 L504.2,138.8 L505.2,139.0 L506.2,138.9 L507.3,138.7 L508.3,138.3 L509.3,137.7 L510.4,136.9 L511.4,136.1 L512.4,135.1 L513.3,134.0 L514.2,132.9 L514.9,131.8 L515.6,130.7 L516.2,129.6 L516.7,128.5 L517.1,127.4 L517.5,126.3 L517.8,125.1 L518.1,124.0 L518.4,122.9 L518.6,121.8 L518.9,120.6 L519.2,119.5 L519.4,118.3 L519.7,117.2 L520.0,116.0 L520.3,114.8 L520.6,113.7 L520.9,112.5 L521.2,111.3 L521.5,110.2 L521.8,109.0 L522.1,107.8 L522.4,106.7 L522.7,105.5 L522.9,104.3 L523.2,103.2 L523.5,102.0 L523.8,100.8 L524.1,99.7 L524.4,98.5 L524.8,97.3 L525.1,96.2 L525.4,95.0 L525.7,93.9 L526.1,92.7 L526.4,91.6 L526.8,90.4 L527.1,89.3 L527.5,88.1 L527.8,87.0 L528.2,85.8 L528.5,84.7 L528.9,83.5 L529.2,82.4 L529.5,81.2 L529.9,80.1 L530.2,78.9 L530.5,77.7 L530.8,76.6 L531.1,75.4 L531.3,74.2 L531.6,73.1 L531.9,71.9 L532.2,70.7 L532.4,69.5 L532.7,68.4 L533.0,67.2 L533.2,66.0 L533.5,64.9 L533.8,63.7 L534.0,62.5 L534.3,61.3 L534.5,60.2 L534.8,59.0 L535.1,57.8 L535.4,56.6 L535.6,55.5 L535.9,54.3 L536.2,53.1 L536.5,52.0 L536.8,50.8 L537.1,49.7 L537.4,48.5 L537.7,47.3 L538.1,46.2 L538.4,45.0 L538.7,43.9 L539.0,42.7 L539.4,41.6 L540.0,40.5 L540.7,39.5 L541.5,38.5 L542.3,37.7 L543.3,37.0 L543.7,38.1 L544.2,39.2 L544.6,40.4 L545.0,41.5 L545.4,42.6 L545.8,43.8 L546.1,44.9 L546.4,46.1 L546.7,47.3 L547.0,48.4 L547.3,49.6 L547.7,50.8 L548.0,51.9 L548.4,53.0 L548.8,54.2 L549.3,55.3 L549.9,56.3 L550.4,57.4 L551.0,58.5 L551.5,59.6 L552.0,60.7 L552.4,61.8 L552.9,62.9 L553.4,64.0 L553.8,65.1 L554.3,66.2 L554.7,67.3 L555.2,68.4 L555.7,69.6 L556.1,70.7 L556.6,71.8 L557.0,72.9 L557.5,74.0 L557.9,75.1 L558.3,76.2 L558.8,77.4 L559.2,78.5 L559.6,79.6 L560.1,80.7 L560.5,81.9 L560.9,83.0 L561.3,84.1 L561.8,85.2 L562.2,86.4 L562.6,87.5 L563.0,88.6 L563.5,89.7 L563.9,90.9 L564.4,92.0 L564.8,93.1 L565.3,94.2 L565.7,95.3 L566.2,96.4 L566.7,97.5 L567.1,98.6 L567.6,99.7 L568.1,100.8 L568.6,101.9 L569.2,103.0 L569.7,104.1 L570.2,105.2 L570.7,106.3 L571.2,107.4 L571.7,108.5 L572.2,109.5 L572.8,110.6 L573.3,111.7 L573.8,112.8 L574.4,113.9 L574.9,114.9 L575.5,116.0 L576.0,117.1 L576.6,118.1 L577.2,119.2 L577.8,120.2 L578.4,121.2 L579.1,122.3 L579.7,123.3 L580.4,124.3 L581.1,125.3 L581.8,126.2 L582.5,127.2 L583.2,128.2 L583.9,129.1 L584.7,130.1 L585.4,131.0 L586.2,132.0 L586.9,132.9 L587.7,133.8 L588.5,134.8 L589.2,135.7 L590.0,136.6 L590.8,137.5 L591.6,138.4 L592.4,139.3 L593.2,140.3 L593.9,141.2 L594.7,142.1 L595.5,143.0 L596.3,143.9 L597.1,144.8 L598.0,145.6 L598.8,146.5 L599.6,147.4 L600.4,148.3 L601.2,149.2 L602.1,150.0 L602.9,150.9 L603.7,151.8 L604.5,152.7 L605.3,153.6 L606.2,154.4 L607.0,155.3 L607.8,156.2 L608.6,157.1 L609.5,157.9 L610.3,158.8" fill="none" stroke="#000000" stroke-width="3.5" stroke-linejoin="round" stroke-dasharray="15.5 3.2 8 3.6" stroke-dashoffset="0.0"/>
<path d="M54.8,182.8 L55.9,183.3 L57.0,183.7 L58.1,184.2 L59.3,184.6 L60.4,185.0 L61.5,185.5 L62.6,185.9 L63.7,186.4 L64.9,186.8 L66.0,187.2 L67.1,187.7 L68.2,188.1 L69.4,188.5 L70.5,188.9 L71.6,189.3 L72.7,189.7 L73.9,190.1 L75.0,190.6 L76.1,191.0 L77.2,191.6 L78.2,192.1 L79.3,192.7 L80.3,193.3 L81.3,194.0 L82.3,194.7 L83.3,195.4 L84.3,196.1 L85.2,196.9 L86.2,197.7 L87.0,198.5 L87.9,199.3 L88.7,200.2 L89.5,201.1 L90.3,202.0 L91.0,203.0 L91.7,204.0 L92.4,205.0 L93.0,206.0 L93.7,207.1 L94.3,208.1 L94.9,209.1 L95.4,210.2 L95.9,211.3 L96.4,212.4 L96.9,213.5 L97.3,214.6 L97.8,215.7 L98.2,216.9 L98.6,218.0 L99.0,219.1 L99.4,220.2 L99.8,221.4 L100.2,222.5 L100.6,223.7 L100.9,224.8 L101.3,226.0 L101.7,227.1 L102.0,228.3 L102.3,229.4 L102.7,230.6 L102.9,231.7 L103.2,232.9 L103.4,234.1 L103.7,235.3 L103.9,236.5 L104.1,237.7 L104.3,238.8 L104.5,240.0 L104.7,241.2 L104.9,242.4 L105.1,243.6 L105.3,244.8 L105.4,246.0 L105.6,247.1 L105.8,248.3 L106.0,249.5 L106.2,250.7 L106.3,251.9 L106.5,253.1 L106.7,254.3 L106.9,255.5 L107.0,256.7 L107.2,257.8 L107.4,259.0 L107.6,260.2 L107.7,261.4 L107.9,262.6 L108.1,263.8 L108.2,265.0 L108.4,266.2 L108.6,267.4 L108.7,268.6 L108.9,269.8 L109.1,270.9 L109.2,272.1 L109.4,273.3 L109.5,274.5 L109.7,275.7 L109.8,276.9 L110.0,278.1 L110.1,279.3 L110.3,280.5 L110.4,281.7 L110.6,282.9 L110.7,284.1 L110.8,285.3 L111.0,286.5 L111.1,287.6 L111.3,288.8 L111.4,290.0 L111.5,291.2 L111.7,292.4 L111.8,293.6 L111.9,294.8 L112.1,296.0 L112.2,297.2 L112.4,298.4 L112.5,299.6 L112.6,300.8 L112.7,302.0 L112.9,303.2 L113.0,304.4 L113.1,305.6 L113.3,306.8 L113.4,308.0 L113.5,309.2 L113.6,310.4 L113.8,311.5 L113.9,312.7 L114.0,313.9 L114.1,315.1 L114.2,316.3 L114.4,317.5 L114.5,318.7 L114.6,319.9 L114.7,321.1 L114.8,322.3 L115.0,323.5 L115.1,324.7 L115.2,325.9 L115.3,327.1 L115.4,328.3 L115.5,327.1 L115.7,325.9 L115.8,324.7 L116.0,323.5 L116.1,322.3 L116.3,321.1 L116.4,319.9 L116.6,318.7 L116.7,317.5 L116.8,316.3 L117.0,315.2 L117.1,314.0 L117.3,312.8 L117.4,311.6 L117.6,310.4 L117.7,309.2 L117.8,308.0 L118.0,306.8 L118.1,305.6 L118.3,304.4 L118.4,303.2 L118.6,302.0 L118.7,300.8 L118.8,299.6 L119.0,298.4 L119.1,297.2 L119.2,296.0 L119.3,294.8 L119.4,293.6 L119.5,292.4 L119.6,291.2 L119.7,290.0 L119.7,288.8 L119.8,287.6 L119.9,286.4 L119.9,285.2 L120.0,284.0 L120.0,282.8 L120.1,281.6 L120.1,280.4 L120.2,279.2 L120.2,278.0 L120.2,276.8 L120.3,275.6 L120.3,274.4 L120.4,273.2 L120.4,272.0 L120.5,270.8 L120.5,269.6 L120.6,268.4 L120.6,267.2 L120.7,266.0 L120.7,264.8 L120.8,263.6 L120.8,262.4 L120.9,261.1 L121.0,259.9 L121.0,258.7 L121.1,257.5 L121.1,256.3 L121.2,255.1 L121.2,253.9 L121.3,252.7 L121.3,251.5 L121.4,250.3 L121.4,249.1 L121.5,247.9 L121.5,246.7 L121.6,245.5 L121.6,244.3 L121.7,243.1 L121.7,241.9 L121.8,240.7 L121.9,239.5 L121.9,238.3 L122.0,237.1 L122.0,235.9 L122.1,234.7 L122.1,233.5 L122.2,232.3 L122.2,231.1 L122.3,229.9 L122.3,228.7 L122.4,227.5 L122.4,226.3 L122.5,225.1 L122.5,223.9 L122.6,222.7 L122.6,221.5 L122.7,220.3 L122.7,219.1 L122.8,217.9 L122.8,216.7 L122.9,215.4 L122.9,214.2 L123.0,213.0 L123.0,211.8 L123.1,210.6 L123.1,209.4 L123.2,208.2 L123.2,207.0 L123.3,205.8 L123.3,204.6 L123.4,203.4 L123.4,202.2 L123.5,201.0 L123.5,199.8 L123.6,198.6 L123.6,197.4 L123.7,196.2 L123.7,195.0 L123.7,193.8 L123.8,192.6 L123.8,191.4 L123.9,190.2 L123.9,189.0 L124.0,187.8 L124.0,186.6 L124.0,185.4 L124.1,184.2 L124.1,183.0 L124.2,181.8 L124.2,180.6 L124.3,179.4 L124.3,178.2 L124.4,177.0 L124.4,175.8 L124.5,174.6 L124.5,173.4 L124.6,172.1 L124.7,170.9 L124.7,169.7 L124.8,168.5 L124.9,167.3 L124.9,166.1 L125.0,164.9 L125.1,163.7 L125.2,162.5 L125.3,161.3 L125.4,160.1 L125.5,158.9 L125.6,157.7 L125.7,156.5 L125.8,155.3 L126.0,154.1 L126.1,152.9 L126.2,151.7 L126.3,150.5 L126.4,149.3 L126.5,148.2 L126.6,147.0 L126.7,145.8 L126.9,144.6 L127.0,143.4 L127.1,142.2 L127.2,141.0 L127.3,139.8 L127.4,138.6 L127.5,137.4 L127.6,136.2 L127.7,135.0 L127.8,133.8 L127.9,132.6 L128.0,131.4 L128.1,130.2 L128.2,129.0 L128.4,127.8 L128.5,126.6 L128.6,125.4 L128.7,124.2 L128.8,123.0 L128.9,121.8 L129.0,120.6 L129.1,119.4 L129.2,118.2 L129.3,117.0 L129.4,115.8 L129.5,114.6 L129.6,113.4 L129.8,112.2 L129.9,111.0 L130.0,109.8 L130.1,108.6 L130.2,107.4 L130.3,106.2 L130.4,105.0 L130.6,103.8 L130.7,102.6 L130.8,101.4 L130.9,100.2 L131.0,99.0 L131.1,97.8 L131.3,96.6 L131.4,95.4 L131.5,94.2 L131.6,93.0 L131.7,91.8 L131.8,90.6 L132.0,89.4 L132.1,88.2 L132.2,87.0 L132.3,85.8 L132.4,84.6 L132.5,83.4 L132.6,82.2 L132.7,81.0 L132.8,79.8 L132.9,78.6 L133.0,77.4 L133.1,76.2 L133.2,75.0 L133.3,73.8 L133.5,72.6 L133.6,71.4 L133.7,70.2 L133.8,69.0 L134.0,67.8 L134.1,66.6 L134.3,65.4 L134.5,64.3 L134.7,63.1 L134.9,61.9 L135.1,60.7 L135.3,59.5 L135.5,58.3 L135.8,57.1 L136.0,56.0 L136.3,54.8 L136.5,53.6 L136.8,52.4 L137.1,51.3 L137.3,50.1 L137.6,48.9 L137.9,47.8 L138.2,46.6 L138.4,45.4 L138.7,44.2 L139.0,43.1 L139.2,41.9 L139.5,40.7 L139.8,39.5 L140.0,38.4 L140.3,37.2 L140.6,36.0 L140.8,34.8 L141.1,33.7 L141.4,32.5 L141.8,31.4 L142.1,30.2 L143.0,31.1 L143.8,32.0 L144.5,32.9 L145.1,34.0 L145.6,35.1 L146.1,36.2 L146.6,37.3 L147.2,38.3 L147.9,39.3 L148.7,40.2 L149.5,41.1 L150.3,41.9 L151.2,42.7 L152.2,43.5 L153.3,44.2 L154.5,44.8 L155.6,45.4 L156.8,45.8 L157.9,46.1 L159.1,46.3 L160.3,46.5 L161.4,46.5 L162.6,46.5 L163.8,46.4 L165.0,46.1 L166.2,45.8 L167.4,45.3 L168.5,44.7 L169.6,44.1 L170.6,43.4 L171.6,42.7 L172.6,42.0 L173.5,41.3 L174.4,40.5 L175.3,39.7 L176.1,38.8 L177.0,38.0 L177.8,37.1 L178.6,36.2 L179.4,35.3 L180.3,34.4 L181.1,33.5 L181.9,32.7 L182.7,31.8 L183.6,30.9 L184.4,30.0 L185.3,29.2 L186.1,28.3 L187.1,27.6 L188.1,27.0 L189.3,26.6 L190.3,27.3 L191.2,28.1 L191.9,29.1 L192.6,30.1 L193.2,31.1 L193.9,32.1 L194.5,33.1 L195.1,34.1 L195.7,35.2 L196.3,36.2 L196.9,37.3 L197.4,38.3 L198.0,39.4 L198.5,40.5 L199.1,41.6 L199.6,42.6 L200.1,43.7 L200.6,44.8 L201.1,45.9 L201.6,47.0 L202.0,48.1 L202.5,49.2 L203.0,50.3 L203.4,51.5 L203.8,52.6 L204.2,53.7 L204.7,54.8 L205.1,56.0 L205.5,57.1 L205.9,58.2 L206.3,59.4 L206.7,60.5 L207.0,61.6 L207.4,62.8 L207.8,63.9 L208.2,65.1 L208.5,66.2 L208.9,67.3 L209.3,68.5 L209.6,69.6 L209.9,70.8 L210.3,71.9 L210.6,73.1 L210.9,74.3 L211.3,75.4 L211.6,76.6 L211.9,77.7 L212.3,78.9 L212.6,80.0 L212.9,81.2 L213.3,82.3 L213.6,83.5 L213.9,84.6 L214.3,85.8 L214.6,86.9 L214.9,88.1 L215.2,89.3 L215.6,90.4 L215.9,91.6 L216.2,92.7 L216.6,93.9 L216.9,95.0 L217.2,96.2 L217.5,97.3 L217.9,98.5 L218.2,99.6 L218.5,100.8 L218.8,102.0 L219.2,103.1 L219.5,104.3 L219.8,105.4 L220.1,106.6 L220.4,107.7 L220.7,108.9 L221.1,110.1 L221.4,111.2 L221.7,112.4 L222.0,113.5 L222.3,114.7 L222.7,115.8 L223.0,117.0 L223.3,118.2 L223.6,119.3 L223.9,120.5 L224.3,121.6 L224.6,122.8 L224.9,123.9 L225.3,125.1 L225.6,126.2 L225.9,127.4 L226.3,128.6 L226.6,129.7 L226.9,130.9 L227.3,132.0 L227.6,133.2 L228.0,134.3 L228.3,135.5 L228.7,136.6 L229.0,137.7 L229.4,138.9 L229.7,140.0 L230.1,141.2 L230.5,142.3 L230.8,143.5 L231.2,144.6 L231.6,145.8 L231.9,146.9 L232.3,148.0 L232.6,149.2 L233.0,150.3 L233.4,151.5 L233.7,152.6 L234.1,153.8 L234.5,154.9 L234.8,156.1 L235.2,157.2 L235.6,158.3 L235.9,159.5 L236.3,160.6 L236.7,161.8 L237.1,162.9 L237.5,164.0 L237.8,165.2 L238.2,166.3 L238.6,167.5 L239.0,168.6 L239.4,169.7 L239.7,170.9 L240.1,172.0 L240.5,173.2 L240.9,174.3 L241.2,175.4 L241.6,176.6 L242.0,177.7 L242.3,178.9 L242.7,180.0 L243.0,181.2 L243.4,182.3 L243.7,183.5 L244.1,184.6 L244.4,185.8 L244.8,186.9 L245.1,188.1 L245.4,189.2 L245.8,190.4 L246.1,191.5 L246.4,192.7 L246.7,193.8 L247.1,195.0 L247.4,196.1 L247.7,197.3 L248.0,198.5 L248.3,199.6 L248.7,200.8 L249.0,201.9 L249.3,203.1 L249.6,204.2 L250.0,205.4 L250.3,206.6 L250.6,207.7 L251.0,208.9 L251.3,210.0 L251.6,211.2 L252.0,212.3 L252.3,213.5 L252.6,214.6 L253.0,215.8 L253.3,216.9 L253.6,218.1 L254.0,219.2 L254.3,220.4 L254.7,221.5 L255.0,222.7 L255.3,223.8 L255.7,225.0 L256.0,226.1 L256.4,227.3 L256.7,228.4 L257.1,229.6 L257.4,230.7 L257.8,231.9 L258.1,233.0 L258.5,234.2 L258.8,235.3 L259.2,236.5 L259.5,237.6 L259.9,238.8 L260.2,239.9 L260.6,241.1 L261.0,242.2 L261.4,243.3 L261.7,244.5 L262.1,245.6 L262.5,246.8 L262.9,247.9 L263.3,249.0 L263.7,250.2 L264.1,251.3 L264.5,252.4 L264.9,253.5 L265.3,254.7 L265.7,255.8 L266.1,256.9 L266.5,258.1 L266.9,259.2 L267.4,260.3 L267.8,261.4 L268.2,262.6 L268.6,263.7 L269.0,264.8 L269.4,265.9 L269.9,267.1 L270.3,268.2 L270.7,269.3 L271.1,270.4 L271.5,271.6 L271.9,272.7 L272.4,273.8 L272.8,274.9 L273.2,276.1 L273.6,277.2 L274.0,278.3 L274.4,279.5 L274.8,280.6 L275.2,281.7 L275.6,282.9 L276.0,284.0 L276.4,285.1 L276.8,286.3 L277.2,287.4 L277.6,288.5 L278.1,289.6 L278.5,290.8 L279.0,291.9 L279.5,292.9 L280.0,294.0 L280.6,295.1 L281.1,296.1 L281.7,297.2 L282.3,298.2 L283.0,299.3 L283.6,300.3 L284.2,301.3 L284.8,302.3 L285.5,303.3 L286.2,304.3 L286.9,305.3 L287.6,306.3 L288.3,307.3 L289.0,308.2 L289.7,309.2 L290.4,310.2 L291.1,311.1 L291.8,312.1 L292.5,313.1 L293.2,314.0 L293.9,315.0 L294.6,316.0 L295.3,317.0 L296.0,317.9 L296.7,318.9 L297.4,319.9 L298.1,320.9 L298.9,321.8 L299.6,322.8 L300.3,323.7 L301.0,324.7 L301.8,325.6 L302.5,326.6 L303.2,327.5 L304.0,328.5 L304.7,329.4 L305.5,330.4 L306.2,331.3 L307.0,332.2 L307.7,333.2 L308.5,334.1 L309.3,335.0 L310.1,335.9 L311.2,336.4 L312.3,336.0 L313.3,335.2 L314.1,334.4 L315.0,333.5 L315.9,332.7 L316.8,332.0 L317.7,331.2 L318.7,330.5 L319.7,329.9 L320.7,329.2 L321.8,328.6 L322.8,328.0 L323.9,327.5 L325.0,326.9 L326.1,326.4 L327.1,325.9 L328.2,325.4 L329.3,325.0 L330.5,324.5 L331.6,324.1 L332.7,323.7 L333.9,323.3 L335.0,323.0 L336.2,322.7 L337.4,322.5 L338.6,322.3 L339.7,322.0 L340.9,321.8 L342.1,321.7 L343.3,321.6 L344.5,321.5 L345.7,321.6 L346.9,321.8 L348.1,321.9 L349.3,322.1 L350.4,322.4 L351.6,322.7 L352.7,323.0 L353.9,323.3 L355.1,323.6 L356.2,324.0 L357.3,324.4 L358.5,324.8 L359.6,325.3 L360.8,325.7 L361.9,326.1 L363.0,326.6 L364.1,327.1 L365.3,327.6 L366.3,328.1 L367.4,328.6 L368.5,329.1 L369.5,329.7 L370.5,330.4 L371.5,331.1 L372.5,331.8 L373.5,332.4 L374.6,332.9 L375.8,333.1 L377.0,332.8 L378.0,332.1 L378.7,331.1 L379.3,330.1 L379.9,329.1 L380.4,328.0 L380.9,326.9 L381.4,325.8 L381.9,324.7 L382.5,323.7 L383.1,322.6 L383.7,321.6 L384.3,320.5 L384.9,319.5 L385.5,318.5 L386.1,317.4 L386.7,316.4 L387.3,315.3 L387.9,314.3 L388.4,313.2 L389.0,312.2 L389.5,311.1 L390.1,310.0 L390.6,308.9 L391.1,307.9 L391.6,306.8 L392.2,305.7 L392.7,304.6 L393.2,303.5 L393.6,302.4 L394.1,301.3 L394.5,300.2 L394.9,299.0 L395.3,297.9 L395.6,296.7 L395.9,295.5 L396.2,294.4 L396.5,293.2 L396.7,292.0 L397.0,290.9 L397.3,289.7 L397.5,288.5 L397.8,287.3 L398.0,286.2 L398.3,285.0 L398.5,283.8 L398.7,282.6 L398.9,281.5 L399.1,280.3 L399.3,279.1 L399.5,277.9 L399.7,276.7 L399.9,275.5 L400.1,274.4 L400.3,273.2 L400.5,272.0 L400.7,270.8 L400.8,269.6 L401.0,268.4 L401.2,267.2 L401.4,266.1 L401.6,264.9 L401.8,263.7 L401.9,262.5 L402.1,261.3 L402.3,260.1 L402.5,258.9 L402.7,257.8 L402.9,256.6 L403.0,255.4 L403.2,254.2 L403.4,253.0 L403.6,251.8 L403.8,250.6 L404.0,249.4 L404.1,248.3 L404.3,247.1 L404.5,245.9 L404.7,244.7 L404.9,243.5 L405.1,242.3 L405.2,241.1 L405.4,240.0 L405.6,238.8 L405.8,237.6 L406.0,236.4 L406.2,235.2 L406.3,234.0 L406.5,232.8 L406.7,231.7 L406.9,230.5 L407.1,229.3 L407.3,228.1 L407.4,226.9 L407.6,225.7 L407.8,224.5 L408.0,223.3 L408.2,222.2 L408.4,221.0 L408.5,219.8 L408.7,218.6 L408.9,217.4 L409.1,216.2 L409.3,215.0 L409.5,213.9 L409.6,212.7 L409.8,211.5 L410.0,210.3 L410.2,209.1 L410.4,207.9 L410.6,206.7 L410.7,205.6 L410.9,204.4 L411.1,203.2 L411.3,202.0 L411.5,200.8 L411.7,199.6 L411.8,198.4 L412.0,197.2 L412.2,196.1 L412.4,194.9 L412.6,193.7 L412.8,192.5 L412.9,191.3 L413.1,190.1 L413.3,188.9 L413.5,187.8 L413.7,186.6 L413.9,185.4 L414.1,184.2 L414.2,183.0 L414.4,181.8 L414.6,180.6 L414.8,179.5 L415.0,178.3 L415.2,177.1 L415.4,175.9 L415.5,174.7 L415.7,173.5 L415.9,172.3 L416.1,171.2 L416.3,170.0 L416.5,168.8 L416.6,167.6 L416.8,166.4 L417.0,165.2 L417.2,164.0 L417.4,162.9 L417.6,161.7 L417.8,160.5 L417.9,159.3 L418.1,158.1 L418.3,156.9 L418.5,155.7 L418.7,154.5 L418.9,153.4 L419.1,152.2 L419.2,151.0 L419.4,149.8 L419.6,148.6 L419.8,147.4 L420.0,146.2 L420.2,145.1 L420.3,143.9 L420.5,142.7 L420.7,141.5 L420.9,140.3 L421.1,139.1 L421.3,137.9 L421.5,136.8 L421.6,135.6 L421.8,134.4 L422.0,133.2 L422.2,132.0 L422.4,130.8 L422.6,129.6 L422.7,128.5 L422.9,127.3 L423.1,126.1 L423.3,124.9 L423.5,123.7 L423.7,122.5 L423.8,121.3 L424.0,120.1 L424.2,119.0 L424.4,117.8 L424.6,116.6 L424.8,115.4 L424.9,114.2 L425.1,113.0 L425.3,111.8 L425.5,110.7 L425.7,109.5 L425.8,108.3 L426.0,107.1 L426.2,105.9 L426.4,104.7 L426.6,103.5 L426.8,102.4 L426.9,101.2 L427.1,100.0 L427.3,98.8 L427.4,97.6 L427.6,96.4 L427.8,95.2 L427.9,94.0 L428.1,92.8 L428.3,91.7 L428.4,90.5 L428.6,89.3 L428.7,88.1 L428.9,86.9 L429.1,85.7 L429.2,84.5 L429.4,83.3 L429.5,82.1 L429.7,80.9 L429.9,79.8 L430.0,78.6 L430.2,77.4 L430.3,76.2 L430.5,75.0 L430.7,73.8 L430.8,72.6 L431.0,71.4 L431.2,70.2 L431.3,69.1 L431.5,67.9 L431.7,66.7 L431.9,65.5 L432.1,64.3 L432.4,63.2 L432.7,62.0 L432.9,60.8 L433.2,59.7 L433.6,58.5 L433.9,57.3 L434.2,56.2 L434.5,55.0 L434.8,53.8 L435.1,52.6 L435.5,51.5 L435.9,50.3 L436.5,49.3 L437.2,48.3 L438.1,47.4 L439.1,46.7 L440.1,46.0 L441.1,45.4 L442.1,44.7 L443.1,44.1 L444.1,43.5 L445.1,42.8 L446.1,42.1 L447.1,41.4 L448.0,40.7 L449.0,40.0 L450.0,39.3 L450.9,38.6 L451.9,37.8 L452.8,36.9 L453.8,36.0 L454.7,35.1 L455.6,34.4 L456.5,34.0 L457.4,34.1 L458.2,34.7 L458.9,35.7 L459.5,37.1 L460.1,38.5 L460.7,39.8 L461.2,40.9 L461.8,42.0 L462.3,43.1 L462.8,44.2 L463.3,45.3 L463.8,46.3 L464.3,47.4 L464.8,48.5 L465.3,49.6 L465.7,50.8 L466.1,51.9 L466.6,53.0 L467.0,54.1 L467.4,55.2 L467.8,56.4 L468.2,57.5 L468.6,58.6 L469.0,59.8 L469.4,60.9 L469.8,62.0 L470.2,63.2 L470.6,64.3 L471.0,65.4 L471.4,66.6 L471.8,67.7 L472.2,68.8 L472.6,70.0 L473.0,71.1 L473.4,72.2 L473.8,73.3 L474.2,74.5 L474.6,75.6 L475.1,76.7 L475.5,77.8 L475.9,79.0 L476.4,80.1 L476.8,81.2 L477.3,82.3 L477.7,83.4 L478.2,84.5 L478.7,85.5 L479.2,86.6 L479.7,87.7 L480.3,88.8 L480.8,89.9 L481.4,90.9 L482.0,92.0 L482.7,93.1 L483.4,94.3 L484.1,95.4 L484.9,96.5 L485.7,97.5 L486.6,98.2 L487.4,98.8 L488.3,99.0 L489.2,98.9 L490.2,98.3 L491.2,97.4 L492.1,96.4 L493.0,95.3 L493.9,94.2 L494.6,93.2 L495.3,92.1 L496.0,91.1 L496.7,90.1 L497.3,89.1 L497.9,88.1 L498.5,87.1 L499.1,86.0 L499.6,85.0 L500.2,83.9 L500.7,82.8 L501.2,81.7 L501.7,80.7 L502.2,79.6 L502.7,78.5 L503.2,77.4 L503.7,76.3 L504.2,75.2 L504.6,74.1 L505.1,73.0 L505.6,71.9 L506.1,70.8 L506.6,69.7 L507.1,68.6 L507.6,67.5 L508.1,66.4 L508.6,65.3 L509.1,64.2 L509.6,63.1 L510.0,62.0 L510.5,60.9 L511.0,59.8 L511.5,58.7 L512.0,57.6 L512.5,56.5 L512.9,55.4 L513.4,54.3 L513.9,53.2 L514.3,52.1 L514.8,51.0 L515.3,49.9 L515.7,48.8 L516.2,47.7 L516.7,46.6 L517.1,45.5 L517.6,44.4 L518.1,43.3 L518.6,42.2 L519.2,41.1 L519.7,40.1 L520.3,39.1 L521.0,38.0 L521.6,37.0 L522.1,38.1 L522.7,39.2 L523.2,40.2 L523.7,41.3 L524.2,42.4 L524.8,43.5 L525.3,44.6 L525.8,45.6 L526.3,46.7 L526.9,47.8 L527.4,48.9 L527.9,50.0 L528.4,51.1 L528.9,52.2 L529.4,53.2 L529.9,54.3 L530.4,55.4 L530.9,56.6 L531.3,57.7 L531.7,58.8 L532.1,59.9 L532.5,61.1 L532.9,62.2 L533.4,63.3 L533.8,64.4 L534.3,65.5 L534.8,66.6 L535.3,67.7 L535.8,68.8 L536.3,69.9 L536.8,71.0 L537.3,72.1 L537.9,73.2 L538.4,74.2 L539.0,75.3 L539.5,76.4 L540.1,77.4 L540.7,78.5 L541.3,79.5 L541.9,80.6 L542.5,81.6 L543.1,82.7 L543.7,83.7 L544.3,84.7 L544.9,85.8 L545.6,86.8 L546.2,87.8 L546.8,88.8 L547.5,89.8 L548.1,90.8 L548.8,91.8 L549.4,92.9 L550.1,93.9 L550.8,94.9 L551.4,95.8 L552.1,96.8 L552.8,97.8 L553.5,98.8 L554.2,99.8 L554.9,100.8 L555.6,101.8 L556.2,102.8 L556.9,103.8 L557.6,104.7 L558.3,105.7 L559.0,106.7 L559.8,107.7 L560.5,108.6 L561.2,109.6 L561.9,110.5 L562.6,111.5 L563.4,112.4 L564.1,113.4 L564.9,114.3 L565.7,115.2 L566.5,116.1 L567.3,117.0 L568.1,117.9 L568.9,118.8 L569.7,119.7 L570.5,120.6 L571.4,121.4 L572.2,122.3 L573.0,123.2 L573.8,124.1 L574.6,124.9 L575.4,125.8 L576.2,126.8 L576.9,127.7 L577.7,128.7 L578.4,129.6 L579.2,130.5 L580.0,131.4 L580.9,132.2 L581.8,133.1 L582.7,133.8 L583.6,134.6 L584.6,135.3 L585.5,136.0 L586.5,136.7 L587.6,137.3 L588.6,137.9 L589.6,138.6 L590.7,139.2 L591.8,139.7 L592.9,140.3 L594.0,140.9 L595.1,141.4 L596.2,141.9 L597.3,142.4 L598.5,142.8 L599.6,143.1 L600.8,143.4 L601.9,143.7 L603.1,143.9 L604.3,144.1 L605.5,144.3 L606.7,144.3 L607.9,144.3 L609.1,144.3 L610.3,144.1" fill="none" stroke="#000000" stroke-width="3.5" stroke-linejoin="round"/>
<path d="M54.8,186.0 L56.0,186.4 L57.1,186.8 L58.2,187.2 L59.3,187.7 L60.4,188.2 L61.5,188.7 L62.6,189.2 L63.7,189.8 L64.7,190.4 L65.8,191.0 L66.8,191.6 L67.8,192.3 L68.8,193.0 L69.8,193.7 L70.7,194.5 L71.7,195.2 L72.6,196.0 L73.5,196.8 L74.4,197.6 L75.3,198.4 L76.2,199.3 L77.0,200.1 L77.8,201.0 L78.6,202.0 L79.4,202.9 L80.1,203.9 L80.8,204.9 L81.5,205.8 L82.2,206.8 L82.8,207.9 L83.5,208.9 L84.1,209.9 L84.7,211.0 L85.3,212.0 L85.9,213.1 L86.4,214.1 L87.0,215.2 L87.5,216.3 L88.1,217.4 L88.6,218.5 L89.1,219.5 L89.6,220.6 L90.1,221.8 L90.6,222.9 L91.1,224.0 L91.5,225.1 L92.0,226.2 L92.4,227.3 L92.8,228.5 L93.3,229.6 L93.6,230.7 L94.0,231.9 L94.4,233.0 L94.7,234.2 L95.1,235.4 L95.4,236.5 L95.7,237.7 L96.1,238.9 L96.4,240.0 L96.7,241.2 L97.0,242.4 L97.3,243.5 L97.5,244.7 L97.8,245.9 L98.1,247.1 L98.3,248.2 L98.6,249.4 L98.9,250.6 L99.1,251.8 L99.4,253.0 L99.6,254.1 L99.9,255.3 L100.1,256.5 L100.3,257.7 L100.6,258.9 L100.8,260.1 L101.0,261.3 L101.2,262.4 L101.4,263.6 L101.6,264.8 L101.9,266.0 L102.1,267.2 L102.3,268.4 L102.5,269.6 L102.7,270.8 L102.9,272.0 L103.1,273.1 L103.3,274.3 L103.5,275.5 L103.7,276.7 L103.9,277.9 L104.1,279.1 L104.3,280.3 L104.5,281.5 L104.7,282.7 L104.9,283.9 L105.1,285.1 L105.3,286.2 L105.5,287.4 L105.7,288.6 L105.9,289.8 L106.1,291.0 L106.3,292.2 L106.5,293.4 L106.6,294.6 L106.8,295.8 L107.0,297.0 L107.2,298.2 L107.4,299.4 L107.5,300.6 L107.7,301.8 L107.9,303.0 L108.1,304.1 L108.3,305.3 L108.4,306.5 L108.6,307.7 L108.8,308.9 L109.0,310.1 L109.1,311.3 L109.3,312.5 L109.5,313.7 L109.7,314.9 L109.8,316.1 L110.0,317.3 L110.2,318.5 L110.4,319.7 L110.5,320.9 L110.7,322.1 L110.9,323.3 L111.1,324.5 L111.2,325.7 L111.4,326.8 L111.6,328.0 L111.8,329.2 L112.0,330.4 L112.2,331.6 L112.3,332.8 L112.5,334.0 L112.7,335.2 L112.9,336.4 L113.1,337.6 L113.3,338.8 L113.4,340.0 L113.6,341.2 L113.8,342.4 L114.0,343.6 L114.2,344.8 L114.4,345.9 L114.5,347.1 L114.7,348.3 L114.9,349.5 L115.1,350.7 L115.3,351.9 L115.4,353.1 L115.6,354.3 L115.8,355.5 L115.9,354.3 L116.1,353.1 L116.2,351.9 L116.4,350.7 L116.5,349.5 L116.7,348.3 L116.8,347.2 L117.0,346.0 L117.1,344.8 L117.3,343.6 L117.4,342.4 L117.6,341.2 L117.7,340.0 L117.8,338.8 L118.0,337.6 L118.1,336.4 L118.3,335.2 L118.4,334.0 L118.6,332.9 L118.7,331.7 L118.9,330.5 L119.0,329.3 L119.1,328.1 L119.3,326.9 L119.4,325.7 L119.6,324.5 L119.7,323.3 L119.8,322.1 L119.9,320.9 L120.1,319.7 L120.2,318.5 L120.3,317.3 L120.4,316.1 L120.5,314.9 L120.6,313.7 L120.7,312.5 L120.7,311.3 L120.8,310.2 L120.9,309.0 L121.0,307.8 L121.0,306.6 L121.1,305.4 L121.2,304.2 L121.2,303.0 L121.3,301.8 L121.4,300.6 L121.4,299.4 L121.5,298.2 L121.6,297.0 L121.6,295.8 L121.7,294.6 L121.7,293.4 L121.8,292.2 L121.8,291.0 L121.9,289.8 L121.9,288.6 L122.0,287.4 L122.1,286.2 L122.1,285.0 L122.2,283.8 L122.2,282.6 L122.2,281.4 L122.3,280.2 L122.3,279.0 L122.4,277.8 L122.4,276.6 L122.5,275.4 L122.5,274.2 L122.5,273.0 L122.6,271.8 L122.6,270.6 L122.6,269.4 L122.6,268.2 L122.7,267.0 L122.7,265.8 L122.7,264.6 L122.7,263.4 L122.8,262.2 L122.8,261.0 L122.8,259.8 L122.8,258.6 L122.9,257.4 L122.9,256.2 L122.9,255.0 L122.9,253.8 L122.9,252.6 L123.0,251.3 L123.0,250.1 L123.0,248.9 L123.0,247.7 L123.1,246.5 L123.1,245.3 L123.1,244.1 L123.1,242.9 L123.2,241.7 L123.2,240.5 L123.2,239.3 L123.2,238.1 L123.3,236.9 L123.3,235.7 L123.3,234.5 L123.4,233.3 L123.4,232.1 L123.4,230.9 L123.5,229.7 L123.5,228.5 L123.5,227.3 L123.6,226.1 L123.6,224.9 L123.6,223.7 L123.7,222.5 L123.7,221.3 L123.7,220.1 L123.8,218.9 L123.8,217.7 L123.8,216.5 L123.9,215.3 L123.9,214.1 L123.9,212.9 L124.0,211.7 L124.0,210.5 L124.0,209.3 L124.1,208.1 L124.1,206.9 L124.1,205.7 L124.2,204.5 L124.2,203.3 L124.2,202.1 L124.3,200.9 L124.3,199.7 L124.3,198.5 L124.4,197.3 L124.4,196.1 L124.4,194.9 L124.5,193.7 L124.5,192.5 L124.5,191.3 L124.6,190.1 L124.6,188.9 L124.6,187.7 L124.7,186.5 L124.7,185.3 L124.8,184.1 L124.8,182.9 L124.8,181.7 L124.9,180.5 L124.9,179.3 L124.9,178.1 L125.0,176.9 L125.0,175.7 L125.0,174.5 L125.1,173.3 L125.1,172.1 L125.2,170.9 L125.2,169.7 L125.3,168.5 L125.3,167.3 L125.3,166.1 L125.4,164.9 L125.4,163.7 L125.5,162.5 L125.5,161.3 L125.6,160.1 L125.6,158.9 L125.7,157.7 L125.7,156.5 L125.8,155.3 L125.8,154.1 L125.9,152.9 L126.0,151.7 L126.0,150.5 L126.1,149.3 L126.1,148.1 L126.2,146.9 L126.2,145.7 L126.3,144.5 L126.4,143.3 L126.4,142.1 L126.5,140.9 L126.5,139.7 L126.6,138.5 L126.6,137.3 L126.7,136.1 L126.8,134.9 L126.8,133.7 L126.9,132.5 L126.9,131.3 L127.0,130.1 L127.1,128.9 L127.1,127.7 L127.2,126.5 L127.2,125.3 L127.3,124.1 L127.3,122.9 L127.4,121.7 L127.5,120.5 L127.5,119.3 L127.6,118.1 L127.6,116.9 L127.7,115.7 L127.7,114.5 L127.8,113.3 L127.9,112.1 L127.9,110.9 L128.0,109.7 L128.0,108.5 L128.1,107.3 L128.2,106.1 L128.2,104.9 L128.3,103.7 L128.3,102.5 L128.4,101.4 L128.5,100.2 L128.5,99.0 L128.6,97.8 L128.6,96.6 L128.7,95.4 L128.8,94.2 L128.8,93.0 L128.9,91.8 L129.0,90.6 L129.0,89.4 L129.1,88.2 L129.2,87.0 L129.2,85.8 L129.3,84.6 L129.4,83.4 L129.5,82.2 L129.5,81.0 L129.6,79.8 L129.7,78.6 L129.8,77.4 L129.9,76.2 L129.9,75.0 L130.0,73.8 L130.1,72.6 L130.2,71.4 L130.3,70.2 L130.4,69.0 L130.4,67.8 L130.5,66.6 L130.6,65.4 L130.7,64.2 L130.8,63.0 L130.9,61.8 L131.0,60.6 L131.0,59.4 L131.1,58.2 L131.2,57.0 L131.3,55.8 L131.4,54.6 L131.5,53.4 L131.6,52.2 L131.7,51.0 L131.8,49.8 L131.9,48.6 L132.0,47.4 L132.1,46.2 L132.2,45.0 L132.3,43.8 L132.4,42.6 L132.5,41.4 L132.6,40.3 L132.7,39.1 L132.8,37.9 L132.9,36.7 L133.0,35.5 L133.1,34.3 L133.2,33.1 L133.3,31.9 L133.4,30.7 L133.5,29.5 L133.7,28.3 L133.8,27.1 L134.0,25.9 L134.1,24.7 L134.3,23.5 L134.4,22.3 L134.6,21.1 L134.7,20.0 L134.9,18.8 L135.0,17.6 L135.1,16.4 L135.2,15.2 L135.4,14.0 L135.7,12.8 L136.1,11.7 L136.8,10.6 L137.8,9.6 L139.0,9.1 L140.2,9.2 L141.4,9.5 L142.6,9.7 L143.8,9.9 L145.0,10.1 L146.2,10.3 L147.3,10.6 L148.5,11.0 L149.6,11.4 L150.7,11.9 L151.8,12.4 L152.9,12.8 L154.1,13.1 L155.3,13.4 L156.5,13.7 L157.6,13.9 L158.8,14.0 L160.0,14.0 L161.2,14.0 L162.4,13.9 L163.6,13.8 L164.8,13.6 L166.0,13.5 L167.2,13.3 L168.4,13.1 L169.6,12.9 L170.7,12.7 L171.9,12.4 L173.1,12.2 L174.3,11.9 L175.4,11.7 L176.6,11.5 L177.8,11.2 L179.0,11.0 L180.2,10.8 L181.3,10.6 L182.5,10.4 L183.7,10.2 L184.9,10.1 L186.1,9.9 L187.3,9.8 L188.5,9.7 L189.7,9.6 L190.9,9.6 L192.1,9.6 L193.3,9.7 L194.5,9.8 L195.7,9.9 L196.8,10.2 L198.0,10.5 L199.1,11.1 L200.2,11.6 L201.2,12.3 L202.1,13.1 L203.0,13.9 L203.8,14.8 L204.5,15.8 L205.2,16.8 L205.9,17.8 L206.5,18.8 L207.1,19.9 L207.6,21.0 L208.0,22.1 L208.5,23.2 L208.9,24.3 L209.3,25.5 L209.8,26.6 L210.2,27.7 L210.6,28.8 L211.0,30.0 L211.4,31.1 L211.8,32.2 L212.2,33.4 L212.6,34.5 L212.9,35.6 L213.3,36.8 L213.6,37.9 L214.0,39.1 L214.3,40.2 L214.6,41.4 L215.0,42.5 L215.3,43.7 L215.7,44.8 L216.0,46.0 L216.3,47.2 L216.7,48.3 L217.0,49.5 L217.3,50.6 L217.7,51.8 L218.0,52.9 L218.3,54.1 L218.6,55.2 L219.0,56.4 L219.3,57.5 L219.6,58.7 L219.9,59.9 L220.3,61.0 L220.6,62.2 L220.9,63.3 L221.2,64.5 L221.6,65.6 L221.9,66.8 L222.2,68.0 L222.5,69.1 L222.8,70.3 L223.0,71.5 L223.3,72.6 L223.6,73.8 L223.9,75.0 L224.1,76.1 L224.4,77.3 L224.6,78.5 L224.8,79.7 L225.1,80.9 L225.3,82.0 L225.5,83.2 L225.8,84.4 L226.0,85.6 L226.2,86.7 L226.4,87.9 L226.6,89.1 L226.8,90.3 L227.0,91.5 L227.3,92.7 L227.5,93.8 L227.7,95.0 L227.9,96.2 L228.1,97.4 L228.3,98.6 L228.5,99.8 L228.7,100.9 L228.9,102.1 L229.1,103.3 L229.3,104.5 L229.5,105.7 L229.7,106.9 L229.9,108.1 L230.1,109.2 L230.3,110.4 L230.5,111.6 L230.7,112.8 L230.9,114.0 L231.1,115.2 L231.2,116.3 L231.4,117.5 L231.6,118.7 L231.8,119.9 L232.0,121.1 L232.2,122.3 L232.4,123.5 L232.6,124.6 L232.8,125.8 L233.0,127.0 L233.2,128.2 L233.4,129.4 L233.6,130.6 L233.8,131.7 L234.0,132.9 L234.1,134.1 L234.3,135.3 L234.5,136.5 L234.7,137.7 L234.9,138.9 L235.1,140.0 L235.3,141.2 L235.5,142.4 L235.7,143.6 L235.9,144.8 L236.1,146.0 L236.2,147.2 L236.4,148.3 L236.6,149.5 L236.8,150.7 L237.0,151.9 L237.2,153.1 L237.4,154.3 L237.6,155.5 L237.8,156.6 L238.0,157.8 L238.1,159.0 L238.3,160.2 L238.5,161.4 L238.7,162.6 L238.9,163.8 L239.1,164.9 L239.3,166.1 L239.5,167.3 L239.7,168.5 L239.8,169.7 L240.0,170.9 L240.2,172.1 L240.4,173.3 L240.6,174.4 L240.8,175.6 L241.0,176.8 L241.2,178.0 L241.3,179.2 L241.5,180.4 L241.7,181.6 L241.9,182.7 L242.1,183.9 L242.3,185.1 L242.5,186.3 L242.7,187.5 L242.9,188.7 L243.1,189.8 L243.3,191.0 L243.5,192.2 L243.7,193.4 L243.9,194.6 L244.1,195.8 L244.3,196.9 L244.5,198.1 L244.7,199.3 L244.9,200.5 L245.2,201.7 L245.4,202.9 L245.6,204.0 L245.8,205.2 L246.0,206.4 L246.2,207.6 L246.5,208.8 L246.7,209.9 L246.9,211.1 L247.1,212.3 L247.4,213.5 L247.6,214.7 L247.8,215.8 L248.0,217.0 L248.3,218.2 L248.5,219.4 L248.7,220.6 L249.0,221.7 L249.2,222.9 L249.5,224.1 L249.7,225.3 L249.9,226.4 L250.2,227.6 L250.4,228.8 L250.6,230.0 L250.9,231.1 L251.1,232.3 L251.3,233.5 L251.6,234.7 L251.8,235.9 L252.0,237.0 L252.3,238.2 L252.5,239.4 L252.7,240.6 L252.9,241.8 L253.1,242.9 L253.4,244.1 L253.6,245.3 L253.8,246.5 L254.0,247.7 L254.2,248.8 L254.4,250.0 L254.6,251.2 L254.9,252.4 L255.1,253.6 L255.3,254.8 L255.5,255.9 L255.7,257.1 L255.9,258.3 L256.1,259.5 L256.4,260.7 L256.6,261.8 L256.8,263.0 L257.0,264.2 L257.2,265.4 L257.5,266.6 L257.7,267.7 L257.9,268.9 L258.1,270.1 L258.4,271.3 L258.6,272.5 L258.8,273.6 L259.1,274.8 L259.3,276.0 L259.5,277.2 L259.8,278.3 L260.0,279.5 L260.2,280.7 L260.5,281.9 L260.7,283.1 L261.0,284.2 L261.2,285.4 L261.5,286.6 L261.7,287.8 L262.0,288.9 L262.2,290.1 L262.5,291.3 L262.8,292.4 L263.0,293.6 L263.3,294.8 L263.6,296.0 L263.9,297.1 L264.1,298.3 L264.4,299.5 L264.7,300.6 L265.0,301.8 L265.4,302.9 L265.7,304.1 L266.1,305.2 L266.5,306.4 L266.9,307.5 L267.3,308.6 L267.7,309.8 L268.1,310.9 L268.6,312.0 L269.0,313.1 L269.4,314.2 L269.8,315.4 L270.3,316.5 L270.7,317.6 L271.1,318.7 L271.5,319.9 L272.0,321.0 L272.4,322.1 L272.8,323.2 L273.3,324.3 L273.7,325.5 L274.1,326.6 L274.6,327.7 L275.1,328.8 L275.6,329.8 L276.2,330.9 L276.7,332.0 L277.2,333.1 L277.8,334.2 L278.4,335.2 L279.0,336.2 L279.6,337.2 L280.3,338.2 L281.0,339.2 L281.7,340.1 L282.5,341.1 L283.3,342.0 L284.2,342.9 L285.1,343.7 L286.0,344.6 L286.9,345.3 L287.9,346.0 L288.9,346.7 L289.9,347.3 L290.9,347.9 L292.0,348.5 L293.1,349.0 L294.2,349.5 L295.3,350.1 L296.4,350.6 L297.5,351.0 L298.6,351.5 L299.8,351.8 L300.9,352.2 L302.1,352.4 L303.3,352.6 L304.5,352.8 L305.7,352.9 L306.9,353.1 L308.1,353.2 L309.2,353.2 L310.4,353.3 L311.6,353.3 L312.8,353.3 L314.0,353.0 L315.2,352.6 L316.3,352.3 L317.4,351.9 L318.6,351.5 L319.7,351.1 L320.8,350.7 L322.0,350.2 L323.1,349.8 L324.2,349.3 L325.3,348.8 L326.4,348.3 L327.5,347.9 L328.7,347.6 L329.8,347.2 L331.0,346.9 L332.1,346.5 L333.3,346.2 L334.4,345.9 L335.6,345.5 L336.7,345.2 L337.9,344.9 L339.1,344.6 L340.2,344.3 L341.4,344.0 L342.5,343.7 L343.7,343.3 L344.9,343.0 L346.0,342.7 L347.2,342.4 L348.3,342.1 L349.5,341.8 L350.7,341.5 L351.8,341.2 L353.0,340.9 L354.2,340.7 L355.3,340.4 L356.5,340.1 L357.7,339.9 L358.9,339.6 L360.1,339.4 L361.3,339.2 L362.4,339.0 L363.6,338.8 L364.8,338.7 L366.0,338.5 L367.2,338.4 L368.4,338.2 L369.6,338.1 L370.8,338.0 L372.0,337.9 L373.2,337.8 L374.4,337.7 L375.6,337.6 L376.8,337.5 L378.0,337.4 L379.2,337.3 L380.4,337.2 L381.6,337.2 L382.8,337.1 L384.0,337.0 L385.2,337.0 L386.4,336.9 L387.6,336.9 L388.8,336.9 L390.0,336.9 L391.2,336.8 L392.4,336.8 L393.6,336.9 L394.8,336.9 L396.0,336.9 L397.2,337.0 L398.4,337.1 L399.6,337.2 L400.8,337.3 L402.0,337.4 L403.2,337.6 L404.4,337.7 L405.6,337.9 L406.8,338.0 L408.0,338.2 L409.2,338.3 L410.4,338.5 L411.5,338.6 L412.7,338.8 L413.9,339.0 L415.1,339.3 L416.3,339.5 L417.4,339.8 L418.6,340.1 L419.8,340.4 L420.9,340.7 L422.1,341.0 L423.2,341.4 L424.4,341.7 L425.6,342.0 L426.7,342.3 L427.9,342.6 L429.0,342.9 L430.2,343.2 L431.4,343.6 L432.5,343.9 L433.7,344.2 L434.9,344.5 L436.0,344.8 L437.2,345.1 L438.3,345.4 L439.5,345.7 L440.7,346.0 L441.8,346.3 L443.0,346.6 L444.2,346.9 L445.3,347.2 L446.5,347.5 L447.6,347.8 L448.8,348.2 L450.0,348.5 L451.1,348.8 L452.3,349.1 L453.4,349.5 L454.6,349.8 L455.7,350.1 L456.9,350.4 L458.0,350.8 L459.2,351.1 L460.4,351.4 L461.5,351.7 L462.7,352.0 L463.9,352.2 L465.1,352.4 L466.3,352.6 L467.5,352.8 L468.7,352.9 L469.9,353.0 L471.1,353.0 L472.3,353.1 L473.5,353.1 L474.7,353.2 L475.9,353.2 L477.1,353.2 L478.3,353.3 L479.5,353.3 L480.7,353.3 L481.9,353.3 L483.1,353.3 L484.3,353.3 L485.5,353.3 L486.7,353.3 L487.9,353.3 L489.1,353.3 L490.3,353.3 L491.5,353.3 L492.7,353.3 L493.9,353.3 L495.1,353.3 L496.3,353.3 L497.5,353.3 L498.7,353.3 L499.9,353.3 L501.1,353.3 L502.3,353.3 L503.5,353.3 L504.7,353.3 L505.9,353.2 L507.1,353.2 L508.3,353.2 L509.5,353.2 L510.7,353.1 L511.9,353.1 L513.1,353.1 L514.3,353.0 L515.5,353.0 L516.7,352.9 L517.9,352.7 L519.1,352.4 L520.2,351.9 L521.3,351.4 L522.3,350.7 L523.3,349.9 L524.1,349.1 L524.9,348.2 L525.7,347.3 L526.6,346.4 L527.4,345.4 L528.1,344.5 L528.9,343.6 L529.6,342.6 L530.2,341.6 L530.7,340.5 L531.2,339.4 L531.7,338.3 L532.1,337.2 L532.6,336.0 L533.0,334.9 L533.4,333.8 L533.8,332.7 L534.2,331.5 L534.6,330.4 L535.0,329.2 L535.4,328.1 L535.7,327.0 L536.1,325.8 L536.4,324.7 L536.8,323.5 L537.1,322.4 L537.5,321.2 L537.8,320.1 L538.2,318.9 L538.5,317.8 L538.8,316.6 L539.2,315.5 L539.5,314.3 L539.9,313.2 L540.2,312.0 L540.6,310.9 L540.9,309.7 L541.2,308.5 L541.6,307.4 L541.9,306.2 L542.3,305.1 L542.6,303.9 L542.9,302.8 L543.3,301.6 L543.6,300.5 L543.9,299.3 L544.3,298.2 L544.6,297.0 L544.9,295.8 L545.2,294.7 L545.6,293.5 L545.9,292.4 L546.2,291.2 L546.5,290.1 L546.8,288.9 L547.1,287.7 L547.4,286.6 L547.7,285.4 L548.0,284.2 L548.3,283.1 L548.6,281.9 L548.9,280.7 L549.2,279.6 L549.5,278.4 L549.8,277.2 L550.1,276.1 L550.4,274.9 L550.7,273.7 L551.0,272.6 L551.3,271.4 L551.7,270.3 L552.0,269.1 L552.4,268.0 L552.7,266.8 L553.1,265.7 L553.5,264.5 L553.8,263.4 L554.2,262.3 L554.6,261.1 L555.0,260.0 L555.4,258.8 L555.7,257.7 L556.1,256.6 L556.5,255.4 L556.9,254.3 L557.3,253.2 L557.7,252.0 L558.1,250.9 L558.5,249.8 L558.9,248.6 L559.3,247.5 L559.7,246.4 L560.2,245.2 L560.6,244.1 L561.0,243.0 L561.4,241.8 L561.8,240.7 L562.3,239.6 L562.7,238.5 L563.1,237.4 L563.6,236.2 L564.0,235.1 L564.5,234.0 L564.9,232.9 L565.4,231.8 L565.8,230.7 L566.3,229.6 L566.8,228.5 L567.3,227.4 L567.8,226.3 L568.3,225.2 L568.7,224.1 L569.2,223.0 L569.8,221.9 L570.3,220.8 L570.8,219.7 L571.3,218.6 L571.9,217.6 L572.5,216.5 L573.1,215.4 L573.7,214.4 L574.3,213.4 L574.9,212.4 L575.6,211.4 L576.3,210.4 L577.0,209.4 L577.7,208.4 L578.4,207.5 L579.2,206.5 L580.0,205.6 L580.7,204.7 L581.5,203.7 L582.3,202.8 L583.1,201.9 L583.9,201.0 L584.7,200.1 L585.5,199.3 L586.3,198.4 L587.1,197.5 L587.9,196.6 L588.7,195.7 L589.6,194.8 L590.4,194.0 L591.2,193.1 L592.1,192.2 L592.9,191.4 L593.8,190.6 L594.7,189.7 L595.6,188.9 L596.5,188.2 L597.4,187.5 L598.4,186.8 L599.5,186.3 L600.6,185.7 L601.7,185.3 L602.8,184.9 L603.9,184.5 L605.1,184.1 L606.3,183.8 L607.5,183.5 L608.8,183.3 L610.0,183.0" fill="none" stroke="#ff0000" stroke-width="3.5" stroke-linejoin="round" stroke-dasharray="17 13" stroke-dashoffset="26.9"/>
<path d="M54.8,186.0 L56.0,186.4 L57.1,186.8 L58.2,187.2 L59.3,187.7 L60.4,188.2 L61.5,188.7 L62.6,189.2 L63.7,189.8 L64.7,190.4 L65.8,191.0 L66.8,191.6 L67.8,192.3 L68.8,193.0 L69.8,193.7 L70.7,194.5 L71.7,195.2 L72.6,196.0 L73.5,196.8 L74.4,197.6 L75.3,198.4 L76.2,199.3 L77.0,200.1 L77.8,201.0 L78.6,202.0 L79.4,202.9 L80.1,203.9 L80.8,204.9 L81.5,205.8 L82.2,206.8 L82.8,207.9 L83.5,208.9 L84.1,209.9 L84.7,211.0 L85.3,212.0 L85.9,213.1 L86.4,214.1 L87.0,215.2 L87.5,216.3 L88.1,217.4 L88.6,218.5 L89.1,219.5 L89.6,220.6 L90.1,221.8 L90.6,222.9 L91.1,224.0 L91.5,225.1 L92.0,226.2 L92.4,227.3 L92.8,228.5 L93.3,229.6 L93.6,230.7 L94.0,231.9 L94.4,233.0 L94.7,234.2 L95.1,235.4 L95.4,236.5 L95.7,237.7 L96.1,238.9 L96.4,240.0 L96.7,241.2 L97.0,242.4 L97.3,243.5 L97.5,244.7 L97.8,245.9 L98.1,247.1 L98.3,248.2 L98.6,249.4 L98.9,250.6 L99.1,251.8 L99.4,253.0 L99.6,254.1 L99.9,255.3 L100.1,256.5 L100.3,257.7 L100.6,258.9 L100.8,260.1 L101.0,261.3 L101.2,262.4 L101.4,263.6 L101.6,264.8 L101.9,266.0 L102.1,267.2 L102.3,268.4 L102.5,269.6 L102.7,270.8 L102.9,272.0 L103.1,273.1 L103.3,274.3 L103.5,275.5 L103.7,276.7 L103.9,277.9 L104.1,279.1 L104.3,280.3 L104.5,281.5 L104.7,282.7 L104.9,283.9 L105.1,285.1 L105.3,286.2 L105.5,287.4 L105.7,288.6 L105.9,289.8 L106.1,291.0 L106.3,292.2 L106.5,293.4 L106.6,294.6 L106.8,295.8 L107.0,297.0 L107.2,298.2 L107.4,299.4 L107.5,300.6 L107.7,301.8 L107.9,303.0 L108.1,304.1 L108.3,305.3 L108.4,306.5 L108.6,307.7 L108.8,308.9 L109.0,310.1 L109.1,311.3 L109.3,312.5 L109.5,313.7 L109.7,314.9 L109.8,316.1 L110.0,317.3 L110.2,318.5 L110.4,319.7 L110.5,320.9 L110.7,322.1 L110.9,323.3 L111.1,324.5 L111.2,325.7 L111.4,326.8 L111.6,328.0 L111.8,329.2 L112.0,330.4 L112.2,331.6 L112.3,332.8 L112.5,334.0 L112.7,335.2 L112.9,336.4 L113.1,337.6 L113.3,338.8 L113.4,340.0 L113.6,341.2 L113.8,342.4 L114.0,343.6 L114.2,344.8 L114.4,345.9 L114.5,347.1 L114.7,348.3 L114.9,349.5 L115.1,350.7 L115.3,351.9 L115.4,353.1 L115.6,354.3 L115.8,355.5 L115.9,354.3 L116.1,353.1 L116.2,351.9 L116.4,350.7 L116.5,349.5 L116.7,348.3 L116.8,347.2 L117.0,346.0 L117.1,344.8 L117.3,343.6 L117.4,342.4 L117.6,341.2 L117.7,340.0 L117.8,338.8 L118.0,337.6 L118.1,336.4 L118.3,335.2 L118.4,334.0 L118.6,332.9 L118.7,331.7 L118.9,330.5 L119.0,329.3 L119.1,328.1 L119.3,326.9 L119.4,325.7 L119.6,324.5 L119.7,323.3 L119.8,322.1 L119.9,320.9 L120.1,319.7 L120.2,318.5 L120.3,317.3 L120.4,316.1 L120.5,314.9 L120.6,313.7 L120.7,312.5 L120.7,311.3 L120.8,310.2 L120.9,309.0 L121.0,307.8 L121.0,306.6 L121.1,305.4 L121.2,304.2 L121.2,303.0 L121.3,301.8 L121.4,300.6 L121.4,299.4 L121.5,298.2 L121.6,297.0 L121.6,295.8 L121.7,294.6 L121.7,293.4 L121.8,292.2 L121.8,291.0 L121.9,289.8 L121.9,288.6 L122.0,287.4 L122.1,286.2 L122.1,285.0 L122.2,283.8 L122.2,282.6 L122.2,281.4 L122.3,280.2 L122.3,279.0 L122.4,277.8 L122.4,276.6 L122.5,275.4 L122.5,274.2 L122.5,273.0 L122.6,271.8 L122.6,270.6 L122.6,269.4 L122.6,268.2 L122.7,267.0 L122.7,265.8 L122.7,264.6 L122.7,263.4 L122.8,262.2 L122.8,261.0 L122.8,259.8 L122.8,258.6 L122.9,257.4 L122.9,256.2 L122.9,255.0 L122.9,253.8 L122.9,252.6 L123.0,251.3 L123.0,250.1 L123.0,248.9 L123.0,247.7 L123.1,246.5 L123.1,245.3 L123.1,244.1 L123.1,242.9 L123.2,241.7 L123.2,240.5 L123.2,239.3 L123.2,238.1 L123.3,236.9 L123.3,235.7 L123.3,234.5 L123.4,233.3 L123.4,232.1 L123.4,230.9 L123.5,229.7 L123.5,228.5 L123.5,227.3 L123.6,226.1 L123.6,224.9 L123.6,223.7 L123.7,222.5 L123.7,221.3 L123.7,220.1 L123.8,218.9 L123.8,217.7 L123.8,216.5 L123.9,215.3 L123.9,214.1 L123.9,212.9 L124.0,211.7 L124.0,210.5 L124.0,209.3 L124.1,208.1 L124.1,206.9 L124.1,205.7 L124.2,204.5 L124.2,203.3 L124.2,202.1 L124.3,200.9 L124.3,199.7 L124.3,198.5 L124.4,197.3 L124.4,196.1 L124.4,194.9 L124.5,193.7 L124.5,192.5 L124.5,191.3 L124.6,190.1 L124.6,188.9 L124.6,187.7 L124.7,186.5 L124.7,185.3 L124.8,184.1 L124.8,182.9 L124.8,181.7 L124.9,180.5 L124.9,179.3 L124.9,178.1 L125.0,176.9 L125.0,175.7 L125.0,174.5 L125.1,173.3 L125.1,172.1 L125.2,170.9 L125.2,169.7 L125.3,168.5 L125.3,167.3 L125.3,166.1 L125.4,164.9 L125.4,163.7 L125.5,162.5 L125.5,161.3 L125.6,160.1 L125.6,158.9 L125.7,157.7 L125.7,156.5 L125.8,155.3 L125.8,154.1 L125.9,152.9 L126.0,151.7 L126.0,150.5 L126.1,149.3 L126.1,148.1 L126.2,146.9 L126.2,145.7 L126.3,144.5 L126.4,143.3 L126.4,142.1 L126.5,140.9 L126.5,139.7 L126.6,138.5 L126.6,137.3 L126.7,136.1 L126.8,134.9 L126.8,133.7 L126.9,132.5 L126.9,131.3 L127.0,130.1 L127.1,128.9 L127.1,127.7 L127.2,126.5 L127.2,125.3 L127.3,124.1 L127.3,122.9 L127.4,121.7 L127.5,120.5 L127.5,119.3 L127.6,118.1 L127.6,116.9 L127.7,115.7 L127.7,114.5 L127.8,113.3 L127.9,112.1 L127.9,110.9 L128.0,109.7 L128.0,108.5 L128.1,107.3 L128.2,106.1 L128.2,104.9 L128.3,103.7 L128.3,102.5 L128.4,101.4 L128.5,100.2 L128.5,99.0 L128.6,97.8 L128.6,96.6 L128.7,95.4 L128.8,94.2 L128.8,93.0 L128.9,91.8 L129.0,90.6 L129.0,89.4 L129.1,88.2 L129.2,87.0 L129.2,85.8 L129.3,84.6 L129.4,83.4 L129.5,82.2 L129.5,81.0 L129.6,79.8 L129.7,78.6 L129.8,77.4 L129.9,76.2 L129.9,75.0 L130.0,73.8 L130.1,72.6 L130.2,71.4 L130.3,70.2 L130.4,69.0 L130.4,67.8 L130.5,66.6 L130.6,65.4 L130.7,64.2 L130.8,63.0 L130.9,61.8 L131.0,60.6 L131.0,59.4 L131.1,58.2 L131.2,57.0 L131.3,55.8 L131.4,54.6 L131.5,53.4 L131.6,52.2 L131.7,51.0 L131.8,49.8 L131.9,48.6 L132.0,47.4 L132.1,46.2 L132.2,45.0 L132.3,43.8 L132.4,42.6 L132.5,41.4 L132.6,40.3 L132.7,39.1 L132.8,37.9 L132.9,36.7 L133.0,35.5 L133.1,34.3 L133.2,33.1 L133.3,31.9 L133.4,30.7 L133.5,29.5 L133.7,28.3 L133.8,27.1 L134.0,25.9 L134.1,24.7 L134.3,23.5 L134.4,22.3 L134.6,21.1 L134.7,20.0 L134.9,18.8 L135.0,17.6 L135.1,16.4 L135.2,15.2 L135.4,14.0 L135.7,12.8 L136.1,11.7 L136.8,10.6 L137.8,9.6 L139.0,9.1 L140.2,9.2 L141.4,9.5 L142.6,9.7 L143.8,9.9 L145.0,10.1 L146.2,10.3 L147.3,10.6 L148.5,11.0 L149.6,11.4 L150.7,11.9 L151.8,12.4 L152.9,12.8 L154.1,13.1 L155.3,13.4 L156.5,13.7 L157.6,13.9 L158.8,14.0 L160.0,14.0 L161.2,14.0 L162.4,13.9 L163.6,13.8 L164.8,13.6 L166.0,13.5 L167.2,13.3 L168.4,13.1 L169.6,12.9 L170.7,12.7 L171.9,12.4 L173.1,12.2 L174.3,11.9 L175.4,11.7 L176.6,11.5 L177.8,11.2 L179.0,11.0 L180.2,10.8 L181.3,10.6 L182.5,10.4 L183.7,10.2 L184.9,10.1 L186.1,9.9 L187.3,9.8 L188.5,9.7 L189.7,9.6 L190.9,9.6 L192.1,9.6 L193.3,9.7 L194.5,9.8 L195.9,9.9 L197.3,10.2 L198.7,10.5 L200.1,11.1 L201.5,11.6 L202.7,12.3 L203.9,13.1 L205.0,13.9 L206.0,14.8 L206.9,15.8 L207.7,16.8 L208.4,17.8 L209.0,18.8 L209.6,19.9 L210.1,21.0 L210.5,22.1 L211.0,23.2 L211.4,24.3 L211.8,25.5 L212.3,26.6 L212.7,27.7 L213.1,28.8 L213.5,30.0 L213.9,31.1 L214.3,32.2 L214.7,33.4 L215.1,34.5 L215.4,35.6 L215.8,36.8 L216.1,37.9 L216.5,39.1 L216.8,40.2 L217.1,41.4 L217.5,42.5 L217.8,43.7 L218.2,44.8 L218.5,46.0 L218.8,47.2 L219.2,48.3 L219.5,49.5 L219.8,50.6 L220.2,51.8 L220.5,52.9 L220.8,54.1 L221.1,55.2 L221.5,56.4 L221.8,57.5 L222.1,58.7 L222.4,59.9 L222.8,61.0 L223.1,62.2 L223.4,63.3 L223.7,64.5 L224.1,65.6 L224.4,66.8 L224.7,68.0 L225.0,69.1 L225.3,70.3 L225.5,71.5 L225.8,72.6 L226.1,73.8 L226.4,75.0 L226.6,76.1 L226.9,77.3 L227.1,78.5 L227.3,79.7 L227.6,80.9 L227.8,82.0 L228.0,83.2 L228.3,84.4 L228.5,85.6 L228.7,86.7 L228.9,87.9 L229.1,89.1 L229.3,90.3 L229.5,91.5 L229.8,92.7 L230.0,93.8 L230.2,95.0 L230.4,96.2 L230.6,97.4 L230.8,98.6 L231.0,99.8 L231.2,100.9 L231.4,102.1 L231.6,103.3 L231.8,104.5 L232.0,105.7 L232.2,106.9 L232.4,108.1 L232.6,109.2 L232.8,110.4 L233.0,111.6 L233.2,112.8 L233.4,114.0 L233.6,115.2 L233.7,116.3 L233.9,117.5 L234.1,118.7 L234.3,119.9 L234.5,121.1 L234.7,122.3 L234.9,123.5 L235.1,124.6 L235.3,125.8 L235.5,127.0 L235.7,128.2 L235.9,129.4 L236.1,130.6 L236.3,131.7 L236.5,132.9 L236.6,134.1 L236.8,135.3 L237.0,136.5 L237.2,137.7 L237.4,138.9 L237.6,140.0 L237.8,141.2 L238.0,142.4 L238.2,143.6 L238.4,144.8 L238.6,146.0 L238.7,147.2 L238.9,148.3 L239.1,149.5 L239.3,150.7 L239.5,151.9 L239.7,153.1 L239.9,154.3 L240.1,155.5 L240.3,156.6 L240.5,157.8 L240.6,159.0 L240.8,160.2 L241.0,161.4 L241.2,162.6 L241.4,163.8 L241.6,164.9 L241.8,166.1 L242.0,167.3 L242.2,168.5 L242.3,169.7 L242.5,170.9 L242.7,172.1 L242.9,173.3 L243.1,174.4 L243.3,175.6 L243.5,176.8 L243.7,178.0 L243.8,179.2 L244.0,180.4 L244.2,181.6 L244.4,182.7 L244.6,183.9 L244.8,185.1 L245.0,186.3 L245.2,187.5 L245.4,188.7 L245.6,189.8 L245.8,191.0 L246.0,192.2 L246.2,193.4 L246.4,194.6 L246.6,195.8 L246.8,196.9 L247.0,198.1 L247.2,199.3 L247.4,200.5 L247.6,201.7 L247.7,202.9 L247.8,204.0 L247.8,205.2 L247.9,206.4 L248.0,207.6 L248.1,208.8 L248.2,209.9 L248.3,211.1 L248.4,212.3 L248.5,213.5 L248.6,214.7 L248.7,215.8 L248.8,217.0 L248.9,218.2 L249.0,219.4 L249.1,220.6 L249.2,221.7 L249.3,222.9 L249.4,224.1 L249.5,225.3 L249.6,226.4 L249.7,227.6 L249.8,228.8 L249.9,230.0 L250.0,231.1 L250.1,232.3 L250.2,233.5 L250.3,234.7 L250.4,235.9 L250.5,237.0 L250.8,238.2 L251.0,239.4 L251.2,240.6 L251.4,241.8 L251.6,242.9 L251.9,244.1 L252.1,245.3 L252.3,246.5 L252.5,247.7 L252.7,248.8 L252.9,250.0 L253.1,251.2 L253.4,252.4 L253.6,253.6 L253.8,254.8 L254.0,255.9 L254.2,257.1 L254.4,258.3 L254.6,259.5 L254.9,260.7 L255.1,261.8 L255.3,263.0 L255.5,264.2 L255.7,265.4 L256.0,266.6 L256.2,267.7 L256.4,268.9 L256.6,270.1 L256.9,271.3 L257.1,272.5 L257.3,273.6 L257.6,274.8 L257.8,276.0 L258.0,277.2 L258.3,278.3 L258.5,279.5 L258.7,280.7 L259.0,281.9 L259.2,283.1 L259.5,284.2 L259.7,285.4 L260.0,286.6 L260.2,287.8 L260.5,288.9 L260.7,290.1 L261.0,291.3 L261.3,292.4 L261.5,293.6 L261.8,294.8 L262.1,296.0 L262.4,297.1 L262.6,298.3 L262.9,299.5 L263.2,300.6 L263.5,301.8 L263.9,302.9 L264.2,304.1 L264.6,305.2 L265.0,306.4 L265.4,307.5 L265.8,308.6 L266.2,309.8 L266.6,310.9 L267.1,312.0 L267.5,313.1 L267.9,314.2 L268.3,315.4 L268.8,316.5 L269.2,317.6 L269.6,318.7 L270.0,319.9 L270.5,321.0 L270.9,322.1 L271.3,323.2 L271.8,324.3 L272.2,325.5 L272.6,326.6 L273.1,327.7 L273.6,328.8 L274.1,329.8 L274.7,330.9 L275.2,332.0 L275.7,333.1 L276.3,334.2 L276.9,335.2 L277.5,336.2 L278.1,337.2 L278.8,338.2 L279.5,339.2 L280.2,340.1 L281.0,341.1 L281.8,342.0 L282.7,342.9 L283.6,343.7 L284.5,344.6 L285.4,345.3 L286.4,346.0 L287.6,346.7 L288.8,347.3 L290.1,347.9 L291.3,348.5 L292.7,349.0 L294.0,349.5 L295.3,350.1 L296.4,350.6 L297.5,351.0 L298.6,351.5 L299.8,351.8 L300.9,352.2 L302.1,352.4 L303.3,352.6 L304.5,352.8 L305.7,352.9 L306.9,353.1 L308.1,353.2 L309.2,353.2 L310.4,353.3 L311.6,353.3 L312.8,353.3 L314.0,353.3 L315.2,353.3 L316.4,353.3 L317.7,353.3 L318.9,353.3 L320.1,353.3 L321.3,353.3 L322.5,353.3 L323.7,353.3 L324.9,353.3 L326.1,353.3 L327.3,353.3 L328.5,353.3 L329.7,353.3 L330.9,353.3 L332.1,353.3 L333.3,353.3 L334.5,353.3 L335.7,353.3 L336.9,353.3 L338.1,353.3 L339.3,353.3 L340.5,353.3 L341.7,353.3 L342.9,353.3 L344.1,353.3 L345.3,353.3 L346.5,353.3 L347.7,353.3 L348.9,353.3 L350.1,353.3 L351.3,353.3 L352.5,353.3 L353.7,353.3 L354.9,353.3 L356.1,353.3 L357.3,353.3 L358.5,353.3 L359.7,353.3 L360.9,353.3 L362.1,353.3 L363.3,353.3 L364.5,353.3 L365.7,353.3 L366.9,353.3 L368.1,353.3 L369.3,353.3 L370.5,353.3 L371.7,353.3 L372.9,353.3 L374.1,353.3 L375.3,353.3 L376.5,353.2 L377.7,353.2 L378.9,353.2 L380.1,353.2 L381.3,353.1 L382.5,353.0 L383.7,352.8 L384.8,352.4 L386.0,352.0 L387.1,351.6 L388.2,351.1 L389.2,350.4 L390.0,349.6 L390.8,348.6 L391.4,347.6 L392.1,346.6 L392.7,345.6 L393.3,344.5 L393.8,343.4 L394.2,342.3 L394.6,341.2 L395.0,340.0 L395.4,338.9 L395.8,337.7 L396.1,336.6 L396.4,335.4 L396.7,334.3 L397.0,333.1 L397.2,331.9 L397.5,330.7 L397.7,329.6 L398.0,328.4 L398.3,327.2 L398.6,326.1 L398.9,324.9 L399.2,323.7 L399.6,322.6 L399.9,321.4 L400.3,320.2 L400.6,319.1 L401.0,317.9 L401.4,316.8 L401.7,315.6 L402.1,314.4 L402.4,313.3 L402.8,312.1 L403.1,311.0 L403.5,309.8 L403.8,308.6 L404.2,307.5 L404.5,306.3 L404.9,305.1 L405.2,304.0 L405.5,302.8 L405.9,301.7 L406.2,300.5 L406.5,299.3 L406.8,298.2 L407.1,297.0 L407.4,295.8 L407.7,294.6 L408.0,293.5 L408.3,292.3 L408.5,291.1 L408.8,289.9 L409.0,288.8 L409.3,287.6 L409.5,286.4 L409.7,285.2 L409.9,284.0 L410.1,282.8 L410.3,281.7 L410.5,280.5 L410.6,279.3 L410.8,278.1 L410.9,276.9 L411.0,275.7 L411.1,274.5 L411.2,273.3 L411.3,272.1 L411.4,270.9 L411.5,269.7 L411.6,268.5 L411.8,267.3 L411.9,266.1 L412.0,264.9 L412.1,263.7 L412.2,262.5 L412.3,261.3 L412.4,260.1 L412.5,258.9 L412.6,257.7 L412.7,256.5 L412.8,255.3 L412.9,254.1 L413.0,252.9 L413.1,251.7 L413.2,250.5 L413.3,249.3 L413.4,248.2 L413.5,247.0 L413.6,245.8 L413.6,244.6 L413.7,243.4 L413.8,242.2 L413.9,241.0 L414.0,239.8 L414.1,238.6 L414.2,237.4 L414.3,236.2 L414.4,235.0 L414.5,233.8 L414.6,232.6 L414.7,231.4 L414.8,230.2 L414.8,229.0 L414.9,227.8 L415.0,226.6 L415.1,225.4 L415.2,224.2 L415.3,223.0 L415.4,221.8 L415.5,220.6 L415.6,219.4 L415.7,218.2 L415.7,217.0 L415.8,215.8 L415.9,214.6 L416.0,213.4 L416.1,212.2 L416.2,211.0 L416.3,209.8 L416.4,208.6 L416.4,207.4 L416.5,206.2 L416.6,205.0 L416.7,203.8 L416.8,202.6 L416.9,201.4 L417.0,200.2 L417.1,199.0 L417.1,197.8 L417.2,196.6 L417.3,195.4 L417.4,194.2 L417.5,193.0 L417.6,191.9 L417.7,190.7 L417.7,189.5 L417.8,188.3 L417.9,187.1 L418.0,185.9 L418.1,184.7 L418.2,183.5 L418.3,182.3 L418.4,181.1 L418.5,179.9 L418.5,178.7 L418.6,177.5 L418.7,176.3 L418.8,175.1 L418.9,173.9 L419.0,172.7 L419.1,171.5 L419.2,170.3 L419.3,169.1 L419.4,167.9 L419.4,166.7 L419.5,165.5 L419.6,164.3 L419.7,163.1 L419.8,161.9 L419.9,160.7 L420.0,159.5 L420.1,158.3 L420.2,157.1 L420.3,155.9 L420.4,154.7 L420.5,153.5 L420.6,152.3 L420.7,151.1 L420.8,149.9 L420.9,148.7 L421.0,147.5 L421.1,146.3 L421.2,145.1 L421.3,143.9 L421.4,142.8 L421.5,141.6 L421.6,140.4 L421.7,139.2 L421.8,138.0 L421.9,136.8 L422.0,135.6 L422.1,134.4 L422.2,133.2 L422.3,132.0 L422.4,130.8 L422.5,129.6 L422.6,128.4 L422.7,127.2 L422.8,126.0 L422.9,124.8 L423.0,123.6 L423.1,122.4 L423.2,121.2 L423.3,120.0 L423.4,118.8 L423.5,117.6 L423.6,116.4 L423.8,115.2 L423.9,114.0 L424.0,112.8 L424.1,111.6 L424.2,110.4 L424.3,109.2 L424.4,108.0 L424.5,106.8 L424.6,105.7 L424.7,104.5 L424.8,103.3 L424.9,102.1 L425.1,100.9 L425.2,99.7 L425.3,98.5 L425.4,97.3 L425.5,96.1 L425.6,94.9 L425.8,93.7 L425.9,92.5 L426.0,91.3 L426.1,90.1 L426.2,88.9 L426.4,87.7 L426.5,86.5 L426.6,85.3 L426.8,84.1 L426.9,82.9 L427.0,81.7 L427.1,80.5 L427.3,79.4 L427.4,78.2 L427.6,77.0 L427.7,75.8 L427.8,74.6 L428.0,73.4 L428.1,72.2 L428.3,71.0 L428.4,69.8 L428.6,68.6 L428.7,67.4 L428.8,66.2 L429.0,65.0 L429.1,63.8 L429.3,62.6 L429.4,61.4 L429.6,60.2 L429.7,59.0 L429.9,57.9 L430.0,56.7 L430.2,55.5 L430.4,54.3 L430.5,53.1 L430.7,51.9 L430.9,50.7 L431.0,49.5 L431.2,48.3 L431.4,47.1 L431.6,45.9 L431.8,44.7 L431.9,43.6 L432.1,42.4 L432.3,41.2 L432.5,40.0 L432.7,38.8 L432.9,37.6 L433.1,36.4 L433.3,35.2 L433.5,34.0 L433.6,32.8 L433.8,31.6 L434.0,30.5 L434.2,29.3 L434.4,28.1 L434.6,26.9 L434.8,25.7 L435.0,24.5 L435.2,23.3 L435.5,22.2 L435.7,21.0 L436.0,19.9 L436.3,18.7 L436.7,17.6 L437.2,16.5 L437.7,15.4 L438.3,14.4 L439.0,13.5 L439.8,12.8 L440.6,12.2 L441.5,11.7 L442.4,11.2 L443.2,10.8 L444.0,10.5 L444.9,10.2 L445.7,10.0 L446.6,9.8 L447.6,9.6 L448.8,9.5 L450.0,9.4 L451.2,9.3 L452.4,9.3 L453.6,9.3 L454.8,9.3 L456.0,9.3 L457.2,9.4 L458.4,9.5 L459.6,9.6 L460.8,9.8 L461.9,10.2 L463.0,10.7 L464.0,11.5 L464.9,12.4 L465.7,13.4 L467.2,12.7 L468.5,12.4 L469.4,12.8 L469.9,13.9 L470.4,15.0 L470.9,16.1 L471.4,17.2 L471.9,18.3 L472.4,19.4 L472.8,20.5 L473.3,21.6 L473.7,22.7 L474.2,23.8 L474.6,24.9 L475.1,26.1 L475.6,27.2 L476.0,28.3 L476.5,29.4 L476.9,30.5 L477.4,31.6 L477.8,32.7 L478.2,33.9 L478.7,35.0 L479.1,36.1 L479.5,37.3 L479.8,38.4 L480.2,39.5 L480.5,40.7 L480.9,41.8 L481.2,43.0 L481.5,44.2 L481.8,45.3 L482.1,46.5 L482.4,47.7 L482.7,48.8 L483.0,50.0 L483.2,51.2 L483.5,52.3 L483.8,53.5 L484.1,54.7 L484.3,55.8 L484.6,57.0 L484.8,58.2 L485.1,59.4 L485.3,60.6 L485.5,61.7 L485.7,62.9 L486.0,64.1 L486.2,65.3 L486.4,66.5 L486.7,67.6 L486.9,68.8 L487.2,70.0 L487.5,71.1 L487.8,72.3 L488.1,73.5 L488.5,74.6 L488.9,75.7 L489.3,76.8 L489.8,78.0 L490.2,79.1 L490.6,80.2 L490.9,81.4 L491.3,82.5 L491.6,83.7 L491.9,84.9 L492.1,86.0 L492.4,87.2 L492.8,88.4 L493.1,89.5 L493.4,90.7 L493.8,91.8 L494.3,92.9 L494.8,94.0 L495.3,95.1 L495.9,96.1 L496.5,97.2 L497.0,98.2 L497.6,99.3 L498.2,100.3 L498.8,101.4 L499.3,102.4 L499.9,103.5 L500.6,104.5 L501.2,105.5 L501.9,106.5 L502.8,107.5 L503.9,108.3 L505.1,108.9 L506.3,109.0 L507.3,108.7 L508.2,108.2 L509.2,107.4 L510.1,106.6 L510.9,105.6 L511.7,104.5 L512.3,103.4 L512.9,102.3 L513.4,101.2 L513.9,100.1 L514.3,99.0 L514.7,97.9 L515.1,96.8 L515.5,95.6 L515.8,94.5 L516.2,93.3 L516.6,92.2 L516.9,91.1 L517.3,89.9 L517.7,88.8 L518.0,87.6 L518.4,86.5 L518.7,85.3 L519.0,84.2 L519.3,83.0 L519.6,81.8 L519.9,80.7 L520.1,79.5 L520.3,78.3 L520.6,77.1 L520.8,75.9 L520.9,74.7 L521.1,73.6 L521.3,72.4 L521.5,71.2 L521.6,70.0 L521.8,68.8 L521.9,67.6 L522.1,66.4 L522.2,65.2 L522.4,64.0 L522.6,62.8 L522.8,61.7 L523.0,60.5 L523.2,59.3 L523.4,58.1 L523.6,56.9 L523.9,55.8 L524.1,54.6 L524.4,53.4 L524.6,52.2 L524.9,51.1 L525.2,49.9 L525.4,48.7 L525.7,47.6 L526.0,46.4 L526.3,45.2 L526.5,44.0 L526.8,42.9 L527.1,41.7 L527.4,40.5 L527.7,39.4 L528.0,38.2 L528.2,37.0 L528.5,35.9 L528.8,34.7 L529.1,33.5 L529.4,32.4 L529.7,31.2 L530.0,30.1 L530.4,28.9 L530.7,27.7 L531.0,26.6 L531.3,25.4 L531.7,24.3 L532.0,23.1 L532.4,22.0 L532.7,20.8 L533.1,19.7 L533.5,18.6 L533.9,17.5 L534.4,16.4 L534.9,15.3 L535.4,14.2 L536.0,13.1 L536.8,12.2 L537.7,11.4 L538.7,10.7 L539.9,10.1 L541.0,9.8 L542.2,9.6 L543.4,9.7 L544.6,9.9 L545.8,10.1 L546.9,10.6 L547.9,11.4 L548.8,12.4 L549.5,13.4 L550.2,14.4 L550.8,15.4 L551.3,16.5 L551.9,17.5 L552.3,18.6 L552.8,19.7 L553.4,20.7 L553.9,21.8 L554.4,22.9 L554.9,24.0 L555.4,25.1 L555.9,26.2 L556.5,27.3 L557.0,28.3 L557.5,29.4 L558.0,30.5 L558.5,31.6 L559.0,32.7 L559.5,33.8 L560.0,34.9 L560.4,36.0 L560.9,37.1 L561.4,38.2 L561.8,39.3 L562.3,40.4 L562.7,41.6 L563.1,42.7 L563.6,43.8 L564.0,44.9 L564.4,46.1 L564.8,47.2 L565.3,48.3 L565.7,49.4 L566.1,50.6 L566.5,51.7 L566.9,52.8 L567.4,53.9 L567.8,55.0 L568.2,56.2 L568.7,57.3 L569.2,58.4 L569.6,59.5 L570.1,60.6 L570.5,61.7 L571.0,62.8 L571.5,63.9 L572.0,65.0 L572.4,66.1 L572.9,67.2 L573.4,68.3 L573.8,69.4 L574.3,70.5 L574.8,71.6 L575.3,72.7 L575.8,73.8 L576.2,74.9 L576.7,76.0 L577.2,77.1 L577.7,78.3 L578.2,79.4 L578.6,80.5 L579.1,81.6 L579.6,82.7 L580.1,83.8 L580.6,84.9 L581.1,85.9 L581.6,87.0 L582.1,88.1 L582.6,89.2 L583.1,90.3 L583.7,91.4 L584.2,92.4 L584.8,93.5 L585.3,94.6 L585.9,95.6 L586.5,96.7 L587.1,97.7 L587.6,98.8 L588.2,99.8 L588.8,100.9 L589.4,101.9 L590.0,103.0 L590.6,104.0 L591.2,105.1 L591.8,106.1 L592.3,107.2 L592.9,108.2 L593.5,109.2 L594.1,110.3 L594.7,111.3 L595.3,112.4 L595.9,113.4 L596.5,114.5 L597.1,115.5 L597.7,116.6 L598.3,117.6 L598.9,118.6 L599.5,119.7 L600.1,120.7 L600.7,121.8 L601.3,122.8 L601.9,123.8 L602.5,124.9 L603.0,125.9 L603.6,127.0 L604.2,128.1 L604.7,129.2 L605.2,130.2 L605.7,131.3 L606.1,132.5 L606.5,133.6 L606.9,134.7 L607.3,135.9 L607.6,137.0 L608.0,138.2 L608.4,139.3 L608.7,140.5 L609.1,141.6 L609.5,142.7 L609.9,143.9 L610.3,145.0" fill="none" stroke="#ff0000" stroke-width="3.5" stroke-linejoin="round" stroke-dasharray="15.5 3.2 8 3.6" stroke-dashoffset="0.0"/>
<path d="M54.8,186.0 L56.0,186.4 L57.1,186.8 L58.2,187.2 L59.3,187.7 L60.4,188.2 L61.5,188.7 L62.6,189.2 L63.7,189.8 L64.7,190.4 L65.8,191.0 L66.8,191.6 L67.8,192.3 L68.8,193.0 L69.8,193.7 L70.7,194.5 L71.7,195.2 L72.6,196.0 L73.5,196.8 L74.4,197.6 L75.3,198.4 L76.2,199.3 L77.0,200.1 L77.8,201.0 L78.6,202.0 L79.4,202.9 L80.1,203.9 L80.8,204.9 L81.5,205.8 L82.2,206.8 L82.8,207.9 L83.5,208.9 L84.1,209.9 L84.7,211.0 L85.3,212.0 L85.9,213.1 L86.4,214.1 L87.0,215.2 L87.5,216.3 L88.1,217.4 L88.6,218.5 L89.1,219.5 L89.6,220.6 L90.1,221.8 L90.6,222.9 L91.1,224.0 L91.5,225.1 L92.0,226.2 L92.4,227.3 L92.8,228.5 L93.3,229.6 L93.6,230.7 L94.0,231.9 L94.4,233.0 L94.7,234.2 L95.1,235.4 L95.4,236.5 L95.7,237.7 L96.1,238.9 L96.4,240.0 L96.7,241.2 L97.0,242.4 L97.3,243.5 L97.5,244.7 L97.8,245.9 L98.1,247.1 L98.3,248.2 L98.6,249.4 L98.9,250.6 L99.1,251.8 L99.4,253.0 L99.6,254.1 L99.9,255.3 L100.1,256.5 L100.3,257.7 L100.6,258.9 L100.8,260.1 L101.0,261.3 L101.2,262.4 L101.4,263.6 L101.6,264.8 L101.9,266.0 L102.1,267.2 L102.3,268.4 L102.5,269.6 L102.7,270.8 L102.9,272.0 L103.1,273.1 L103.3,274.3 L103.5,275.5 L103.7,276.7 L103.9,277.9 L104.1,279.1 L104.3,280.3 L104.5,281.5 L104.7,282.7 L104.9,283.9 L105.1,285.1 L105.3,286.2 L105.5,287.4 L105.7,288.6 L105.9,289.8 L106.1,291.0 L106.3,292.2 L106.5,293.4 L106.6,294.6 L106.8,295.8 L107.0,297.0 L107.2,298.2 L107.4,299.4 L107.5,300.6 L107.7,301.8 L107.9,303.0 L108.1,304.1 L108.3,305.3 L108.4,306.5 L108.6,307.7 L108.8,308.9 L109.0,310.1 L109.1,311.3 L109.3,312.5 L109.5,313.7 L109.7,314.9 L109.8,316.1 L110.0,317.3 L110.2,318.5 L110.4,319.7 L110.5,320.9 L110.7,322.1 L110.9,323.3 L111.1,324.5 L111.2,325.7 L111.4,326.8 L111.6,328.0 L111.8,329.2 L112.0,330.4 L112.2,331.6 L112.3,332.8 L112.5,334.0 L112.7,335.2 L112.9,336.4 L113.1,337.6 L113.3,338.8 L113.4,340.0 L113.6,341.2 L113.8,342.4 L114.0,343.6 L114.2,344.8 L114.4,345.9 L114.5,347.1 L114.7,348.3 L114.9,349.5 L115.1,350.7 L115.3,351.9 L115.4,353.1 L115.6,354.3 L115.8,355.5 L115.9,354.3 L116.1,353.1 L116.2,351.9 L116.4,350.7 L116.5,349.5 L116.7,348.3 L116.8,347.2 L117.0,346.0 L117.1,344.8 L117.3,343.6 L117.4,342.4 L117.6,341.2 L117.7,340.0 L117.8,338.8 L118.0,337.6 L118.1,336.4 L118.3,335.2 L118.4,334.0 L118.6,332.9 L118.7,331.7 L118.9,330.5 L119.0,329.3 L119.1,328.1 L119.3,326.9 L119.4,325.7 L119.6,324.5 L119.7,323.3 L119.8,322.1 L119.9,320.9 L120.1,319.7 L120.2,318.5 L120.3,317.3 L120.4,316.1 L120.5,314.9 L120.6,313.7 L120.7,312.5 L120.7,311.3 L120.8,310.2 L120.9,309.0 L121.0,307.8 L121.0,306.6 L121.1,305.4 L121.2,304.2 L121.2,303.0 L121.3,301.8 L121.4,300.6 L121.4,299.4 L121.5,298.2 L121.6,297.0 L121.6,295.8 L121.7,294.6 L121.7,293.4 L121.8,292.2 L121.8,291.0 L121.9,289.8 L121.9,288.6 L122.0,287.4 L122.1,286.2 L122.1,285.0 L122.2,283.8 L122.2,282.6 L122.2,281.4 L122.3,280.2 L122.3,279.0 L122.4,277.8 L122.4,276.6 L122.5,275.4 L122.5,274.2 L122.5,273.0 L122.6,271.8 L122.6,270.6 L122.6,269.4 L122.6,268.2 L122.7,267.0 L122.7,265.8 L122.7,264.6 L122.7,263.4 L122.8,262.2 L122.8,261.0 L122.8,259.8 L122.8,258.6 L122.9,257.4 L122.9,256.2 L122.9,255.0 L122.9,253.8 L122.9,252.6 L123.0,251.3 L123.0,250.1 L123.0,248.9 L123.0,247.7 L123.1,246.5 L123.1,245.3 L123.1,244.1 L123.1,242.9 L123.2,241.7 L123.2,240.5 L123.2,239.3 L123.2,238.1 L123.3,236.9 L123.3,235.7 L123.3,234.5 L123.4,233.3 L123.4,232.1 L123.4,230.9 L123.5,229.7 L123.5,228.5 L123.5,227.3 L123.6,226.1 L123.6,224.9 L123.6,223.7 L123.7,222.5 L123.7,221.3 L123.7,220.1 L123.8,218.9 L123.8,217.7 L123.8,216.5 L123.9,215.3 L123.9,214.1 L123.9,212.9 L124.0,211.7 L124.0,210.5 L124.0,209.3 L124.1,208.1 L124.1,206.9 L124.1,205.7 L124.2,204.5 L124.2,203.3 L124.2,202.1 L124.3,200.9 L124.3,199.7 L124.3,198.5 L124.4,197.3 L124.4,196.1 L124.4,194.9 L124.5,193.7 L124.5,192.5 L124.5,191.3 L124.6,190.1 L124.6,188.9 L124.6,187.7 L124.7,186.5 L124.7,185.3 L124.8,184.1 L124.8,182.9 L124.8,181.7 L124.9,180.5 L124.9,179.3 L124.9,178.1 L125.0,176.9 L125.0,175.7 L125.0,174.5 L125.1,173.3 L125.1,172.1 L125.2,170.9 L125.2,169.7 L125.3,168.5 L125.3,167.3 L125.3,166.1 L125.4,164.9 L125.4,163.7 L125.5,162.5 L125.5,161.3 L125.6,160.1 L125.6,158.9 L125.7,157.7 L125.7,156.5 L125.8,155.3 L125.8,154.1 L125.9,152.9 L126.0,151.7 L126.0,150.5 L126.1,149.3 L126.1,148.1 L126.2,146.9 L126.2,145.7 L126.3,144.5 L126.4,143.3 L126.4,142.1 L126.5,140.9 L126.5,139.7 L126.6,138.5 L126.6,137.3 L126.7,136.1 L126.8,134.9 L126.8,133.7 L126.9,132.5 L126.9,131.3 L127.0,130.1 L127.1,128.9 L127.1,127.7 L127.2,126.5 L127.2,125.3 L127.3,124.1 L127.3,122.9 L127.4,121.7 L127.5,120.5 L127.5,119.3 L127.6,118.1 L127.6,116.9 L127.7,115.7 L127.7,114.5 L127.8,113.3 L127.9,112.1 L127.9,110.9 L128.0,109.7 L128.0,108.5 L128.1,107.3 L128.2,106.1 L128.2,104.9 L128.3,103.7 L128.3,102.5 L128.4,101.4 L128.5,100.2 L128.5,99.0 L128.6,97.8 L128.6,96.6 L128.7,95.4 L128.8,94.2 L128.8,93.0 L128.9,91.8 L129.0,90.6 L129.0,89.4 L129.1,88.2 L129.2,87.0 L129.2,85.8 L129.3,84.6 L129.4,83.4 L129.5,82.2 L129.5,81.0 L129.6,79.8 L129.7,78.6 L129.8,77.4 L129.9,76.2 L129.9,75.0 L130.0,73.8 L130.1,72.6 L130.2,71.4 L130.3,70.2 L130.4,69.0 L130.4,67.8 L130.5,66.6 L130.6,65.4 L130.7,64.2 L130.8,63.0 L130.9,61.8 L131.0,60.6 L131.0,59.4 L131.1,58.2 L131.2,57.0 L131.3,55.8 L131.4,54.6 L131.5,53.4 L131.6,52.2 L131.7,51.0 L131.8,49.8 L131.9,48.6 L132.0,47.4 L132.1,46.2 L132.2,45.0 L132.3,43.8 L132.4,42.6 L132.5,41.4 L132.6,40.3 L132.7,39.1 L132.8,37.9 L132.9,36.7 L133.0,35.5 L133.1,34.3 L133.2,33.1 L133.3,31.9 L133.4,30.7 L133.5,29.5 L133.7,28.3 L133.8,27.1 L134.0,25.9 L134.1,24.7 L134.3,23.5 L134.4,22.3 L134.6,21.1 L134.7,20.0 L134.9,18.8 L135.0,17.6 L135.1,16.4 L135.2,15.2 L135.4,14.0 L135.7,12.8 L136.1,11.7 L136.8,10.6 L137.8,9.6 L139.0,9.1 L140.2,9.2 L141.4,9.5 L142.6,9.7 L143.8,9.9 L145.0,10.1 L146.2,10.3 L147.3,10.6 L148.5,11.0 L149.6,11.4 L150.7,11.9 L151.8,12.4 L152.9,12.8 L154.1,13.1 L155.3,13.4 L156.5,13.7 L157.6,13.9 L158.8,14.0 L160.0,14.0 L161.2,14.0 L162.4,13.9 L163.6,13.8 L164.8,13.6 L166.0,13.5 L167.2,13.3 L168.4,13.1 L169.6,12.9 L170.7,12.7 L171.9,12.4 L173.1,12.2 L174.3,11.9 L175.4,11.7 L176.6,11.5 L177.8,11.2 L179.0,11.0 L180.2,10.8 L181.3,10.6 L182.5,10.4 L183.7,10.2 L184.9,10.1 L186.1,9.9 L187.3,9.8 L188.5,9.7 L189.7,9.6 L190.9,9.6 L192.1,9.6 L193.3,9.7 L194.5,9.8 L195.7,9.9 L196.8,10.2 L198.0,10.5 L199.1,11.1 L200.2,11.6 L201.2,12.3 L202.1,13.1 L203.0,13.9 L203.8,14.8 L204.5,15.8 L205.2,16.8 L205.9,17.8 L206.5,18.8 L207.1,19.9 L207.6,21.0 L208.0,22.1 L208.5,23.2 L208.9,24.3 L209.3,25.5 L209.8,26.6 L210.2,27.7 L210.6,28.8 L211.0,30.0 L211.4,31.1 L211.8,32.2 L212.2,33.4 L212.6,34.5 L212.9,35.6 L213.3,36.8 L213.6,37.9 L214.0,39.1 L214.3,40.2 L214.6,41.4 L215.0,42.5 L215.3,43.7 L215.7,44.8 L216.0,46.0 L216.3,47.2 L216.7,48.3 L217.0,49.5 L217.3,50.6 L217.7,51.8 L218.0,52.9 L218.3,54.1 L218.6,55.2 L219.0,56.4 L219.3,57.5 L219.6,58.7 L219.9,59.9 L220.3,61.0 L220.6,62.2 L220.9,63.3 L221.2,64.5 L221.6,65.6 L221.9,66.8 L222.2,68.0 L222.5,69.1 L222.8,70.3 L223.0,71.5 L223.3,72.6 L223.6,73.8 L223.9,75.0 L224.1,76.1 L224.4,77.3 L224.6,78.5 L224.8,79.7 L225.1,80.9 L225.3,82.0 L225.5,83.2 L225.8,84.4 L226.0,85.6 L226.2,86.7 L226.4,87.9 L226.6,89.1 L226.8,90.3 L227.0,91.5 L227.3,92.7 L227.5,93.8 L227.7,95.0 L227.9,96.2 L228.1,97.4 L228.3,98.6 L228.5,99.8 L228.7,100.9 L228.9,102.1 L229.1,103.3 L229.3,104.5 L229.5,105.7 L229.7,106.9 L229.9,108.1 L230.1,109.2 L230.3,110.4 L230.5,111.6 L230.7,112.8 L230.9,114.0 L231.1,115.2 L231.2,116.3 L231.4,117.5 L231.6,118.7 L231.8,119.9 L232.0,121.1 L232.2,122.3 L232.4,123.5 L232.6,124.6 L232.8,125.8 L233.0,127.0 L233.2,128.2 L233.4,129.4 L233.6,130.6 L233.8,131.7 L234.0,132.9 L234.1,134.1 L234.3,135.3 L234.5,136.5 L234.7,137.7 L234.9,138.9 L235.1,140.0 L235.3,141.2 L235.5,142.4 L235.7,143.6 L235.9,144.8 L236.1,146.0 L236.2,147.2 L236.4,148.3 L236.6,149.5 L236.8,150.7 L237.0,151.9 L237.2,153.1 L237.4,154.3 L237.6,155.5 L237.8,156.6 L238.0,157.8 L238.1,159.0 L238.3,160.2 L238.5,161.4 L238.7,162.6 L238.9,163.8 L239.1,164.9 L239.3,166.1 L239.5,167.3 L239.7,168.5 L239.8,169.7 L240.0,170.9 L240.2,172.1 L240.4,173.3 L240.6,174.4 L240.8,175.6 L241.0,176.8 L241.2,178.0 L241.3,179.2 L241.5,180.4 L241.7,181.6 L241.9,182.7 L242.1,183.9 L242.3,185.1 L242.5,186.3 L242.7,187.5 L242.9,188.7 L243.1,189.8 L243.3,191.0 L243.5,192.2 L243.7,193.4 L243.9,194.6 L244.1,195.8 L244.3,196.9 L244.5,198.1 L244.7,199.3 L244.9,200.5 L245.2,201.7 L245.4,202.9 L245.6,204.0 L245.8,205.2 L246.0,206.4 L246.2,207.6 L246.5,208.8 L246.7,209.9 L246.9,211.1 L247.1,212.3 L247.4,213.5 L247.6,214.7 L247.8,215.8 L248.0,217.0 L248.3,218.2 L248.5,219.4 L248.7,220.6 L249.0,221.7 L249.2,222.9 L249.5,224.1 L249.7,225.3 L249.9,226.4 L250.2,227.6 L250.4,228.8 L250.6,230.0 L250.9,231.1 L251.1,232.3 L251.3,233.5 L251.6,234.7 L251.8,235.9 L252.0,237.0 L252.3,238.2 L252.5,239.4 L252.7,240.6 L252.9,241.8 L253.1,242.9 L253.4,244.1 L253.6,245.3 L253.8,246.5 L254.0,247.7 L254.2,248.8 L254.4,250.0 L254.6,251.2 L254.9,252.4 L255.1,253.6 L255.3,254.8 L255.5,255.9 L255.7,257.1 L255.9,258.3 L256.1,259.5 L256.4,260.7 L256.6,261.8 L256.8,263.0 L257.0,264.2 L257.2,265.4 L257.5,266.6 L257.7,267.7 L257.9,268.9 L258.1,270.1 L258.4,271.3 L258.6,272.5 L258.8,273.6 L259.1,274.8 L259.3,276.0 L259.5,277.2 L259.8,278.3 L260.0,279.5 L260.2,280.7 L260.5,281.9 L260.7,283.1 L261.0,284.2 L261.2,285.4 L261.5,286.6 L261.7,287.8 L262.0,288.9 L262.2,290.1 L262.5,291.3 L262.8,292.4 L263.0,293.6 L263.3,294.8 L263.6,296.0 L263.9,297.1 L264.1,298.3 L264.4,299.5 L264.7,300.6 L265.0,301.8 L265.4,302.9 L265.7,304.1 L266.1,305.2 L266.5,306.4 L266.9,307.5 L267.3,308.6 L267.7,309.8 L268.1,310.9 L268.6,312.0 L269.0,313.1 L269.4,314.2 L269.8,315.4 L270.3,316.5 L270.7,317.6 L271.1,318.7 L271.5,319.9 L272.0,321.0 L272.4,322.1 L272.8,323.2 L273.3,324.3 L273.7,325.5 L274.1,326.6 L274.6,327.7 L275.1,328.8 L275.6,329.8 L276.2,330.9 L276.7,332.0 L277.2,333.1 L277.8,334.2 L278.4,335.2 L279.0,336.2 L279.6,337.2 L280.3,338.2 L281.0,339.2 L281.7,340.1 L282.5,341.1 L283.3,342.0 L284.2,342.9 L285.1,343.7 L286.0,344.6 L286.9,345.3 L287.9,346.0 L288.9,346.7 L289.9,347.3 L290.9,347.9 L292.0,348.5 L293.1,349.0 L294.2,349.5 L295.3,350.1 L296.4,350.6 L297.5,351.0 L298.6,351.5 L299.8,351.8 L300.9,352.2 L302.1,352.4 L303.3,352.6 L304.5,352.8 L305.7,352.9 L306.9,353.1 L308.1,353.2 L309.2,353.2 L310.4,353.3 L311.6,353.3 L312.8,353.3 L314.0,353.3 L315.2,353.3 L316.4,353.3 L317.7,353.3 L318.9,353.3 L320.1,353.3 L321.3,353.3 L322.5,353.3 L323.7,353.3 L324.9,353.3 L326.1,353.3 L327.3,353.3 L328.5,353.3 L329.7,353.3 L330.9,353.3 L332.1,353.3 L333.3,353.3 L334.5,353.3 L335.7,353.3 L336.9,353.3 L338.1,353.3 L339.3,353.3 L340.5,353.3 L341.7,353.3 L342.9,353.3 L344.1,353.3 L345.3,353.3 L346.5,353.3 L347.7,353.3 L348.9,353.3 L350.1,353.3 L351.3,353.3 L352.5,353.3 L353.7,353.3 L354.9,353.3 L356.1,353.3 L357.3,353.3 L358.5,353.3 L359.7,353.3 L360.9,353.3 L362.1,353.3 L363.3,353.3 L364.5,353.3 L365.7,353.3 L366.9,353.3 L368.1,353.3 L369.3,353.3 L370.5,353.3 L371.7,353.3 L372.9,353.3 L374.1,353.3 L375.3,353.3 L376.5,353.2 L377.7,353.2 L378.9,353.2 L380.1,353.2 L381.3,353.1 L382.5,353.0 L383.7,352.8 L384.8,352.4 L386.0,352.0 L387.1,351.6 L388.2,351.1 L389.2,350.4 L390.0,349.6 L390.8,348.6 L391.4,347.6 L392.1,346.6 L392.7,345.6 L393.3,344.5 L393.8,343.4 L394.2,342.3 L394.6,341.2 L395.0,340.0 L395.4,338.9 L395.8,337.7 L396.1,336.6 L396.4,335.4 L396.7,334.3 L397.0,333.1 L397.2,331.9 L397.5,330.7 L397.7,329.6 L398.0,328.4 L398.3,327.2 L398.5,326.1 L398.8,324.9 L399.1,323.7 L399.4,322.6 L399.7,321.4 L400.0,320.2 L400.3,319.1 L400.6,317.9 L400.9,316.8 L401.3,315.6 L401.6,314.4 L401.9,313.3 L402.2,312.1 L402.5,311.0 L402.8,309.8 L403.1,308.6 L403.4,307.5 L403.7,306.3 L404.0,305.1 L404.3,304.0 L404.6,302.8 L404.9,301.7 L405.2,300.5 L405.5,299.3 L405.8,298.2 L406.0,297.0 L406.3,295.8 L406.6,294.6 L406.9,293.5 L407.1,292.3 L407.4,291.1 L407.6,289.9 L407.9,288.8 L408.1,287.6 L408.3,286.4 L408.5,285.2 L408.7,284.0 L408.9,282.8 L409.1,281.7 L409.2,280.5 L409.4,279.3 L409.5,278.1 L409.6,276.9 L409.7,275.7 L409.8,274.5 L409.9,273.3 L410.0,272.1 L410.1,270.9 L410.2,269.7 L410.3,268.5 L410.4,267.3 L410.5,266.1 L410.6,264.9 L410.7,263.7 L410.8,262.5 L410.9,261.3 L411.0,260.1 L411.1,258.9 L411.2,257.7 L411.3,256.5 L411.4,255.3 L411.5,254.1 L411.6,252.9 L411.7,251.7 L411.8,250.5 L411.9,249.3 L411.9,248.2 L412.0,247.0 L412.1,245.8 L412.2,244.6 L412.3,243.4 L412.4,242.2 L412.5,241.0 L412.6,239.8 L412.7,238.6 L412.7,237.4 L412.8,236.2 L412.9,235.0 L413.0,233.8 L413.1,232.6 L413.2,231.4 L413.3,230.2 L413.3,229.0 L413.4,227.8 L413.5,226.6 L413.6,225.4 L413.7,224.2 L413.8,223.0 L413.9,221.8 L413.9,220.6 L414.0,219.4 L414.1,218.2 L414.2,217.0 L414.3,215.8 L414.4,214.6 L414.4,213.4 L414.5,212.2 L414.6,211.0 L414.7,209.8 L414.8,208.6 L414.8,207.4 L414.9,206.2 L415.0,205.0 L415.1,203.8 L415.2,202.6 L415.3,201.4 L415.3,200.2 L415.4,199.0 L415.5,197.8 L415.6,196.6 L415.7,195.4 L415.8,194.2 L415.8,193.0 L415.9,191.9 L416.0,190.7 L416.1,189.5 L416.2,188.3 L416.2,187.1 L416.3,185.9 L416.4,184.7 L416.5,183.5 L416.6,182.3 L416.7,181.1 L416.7,179.9 L416.8,178.7 L416.9,177.5 L417.0,176.3 L417.1,175.1 L417.2,173.9 L417.3,172.7 L417.3,171.5 L417.4,170.3 L417.5,169.1 L417.6,167.9 L417.7,166.7 L417.8,165.5 L417.9,164.3 L417.9,163.1 L418.0,161.9 L418.1,160.7 L418.2,159.5 L418.3,158.3 L418.4,157.1 L418.5,155.9 L418.6,154.7 L418.7,153.5 L418.7,152.3 L418.8,151.1 L418.9,149.9 L419.0,148.7 L419.1,147.5 L419.2,146.3 L419.3,145.1 L419.4,143.9 L419.5,142.8 L419.6,141.6 L419.7,140.4 L419.8,139.2 L419.9,138.0 L420.0,136.8 L420.1,135.6 L420.2,134.4 L420.3,133.2 L420.4,132.0 L420.5,130.8 L420.6,129.6 L420.7,128.4 L420.8,127.2 L420.9,126.0 L421.0,124.8 L421.1,123.6 L421.2,122.4 L421.3,121.2 L421.4,120.0 L421.4,118.8 L421.5,117.6 L421.6,116.4 L421.7,115.2 L421.8,114.0 L421.9,112.8 L422.0,111.6 L422.1,110.4 L422.3,109.2 L422.4,108.0 L422.5,106.8 L422.6,105.7 L422.7,104.5 L422.8,103.3 L422.9,102.1 L423.0,100.9 L423.1,99.7 L423.2,98.5 L423.3,97.3 L423.4,96.1 L423.5,94.9 L423.6,93.7 L423.8,92.5 L423.9,91.3 L424.0,90.1 L424.1,88.9 L424.2,87.7 L424.3,86.5 L424.5,85.3 L424.6,84.1 L424.7,82.9 L424.8,81.7 L424.9,80.5 L425.1,79.4 L425.2,78.2 L425.3,77.0 L425.4,75.8 L425.5,74.6 L425.7,73.4 L425.8,72.2 L425.9,71.0 L426.0,69.8 L426.1,68.6 L426.3,67.4 L426.4,66.2 L426.5,65.0 L426.6,63.8 L426.7,62.6 L426.9,61.4 L427.0,60.2 L427.1,59.0 L427.3,57.9 L427.4,56.7 L427.5,55.5 L427.7,54.3 L427.8,53.1 L428.0,51.9 L428.1,50.7 L428.2,49.5 L428.4,48.3 L428.5,47.1 L428.7,45.9 L428.8,44.7 L429.0,43.6 L429.2,42.4 L429.3,41.2 L429.5,40.0 L429.6,38.8 L429.8,37.6 L430.0,36.4 L430.1,35.2 L430.3,34.0 L430.4,32.8 L430.6,31.6 L430.8,30.5 L430.9,29.3 L431.1,28.1 L431.2,26.9 L431.4,25.7 L431.6,24.5 L431.8,23.3 L432.0,22.2 L432.3,21.0 L432.6,19.9 L433.0,18.7 L433.5,17.6 L434.1,16.5 L434.7,15.4 L435.5,14.4 L436.3,13.5 L437.3,12.8 L438.3,12.2 L439.4,11.7 L440.5,11.2 L441.7,10.8 L442.9,10.5 L444.0,10.2 L445.2,10.0 L446.4,9.8 L447.6,9.6 L448.8,9.5 L450.0,9.4 L451.2,9.3 L452.4,9.3 L453.6,9.3 L454.8,9.3 L456.0,9.3 L457.2,9.4 L458.4,9.5 L459.6,9.6 L460.8,9.8 L461.9,10.2 L463.0,10.7 L464.0,11.5 L464.9,12.4 L465.7,13.4 L466.4,14.3 L467.1,15.3 L467.7,16.3 L468.2,17.4 L468.8,18.4 L469.2,19.5 L469.7,20.7 L470.2,21.8 L470.6,22.9 L471.1,24.0 L471.6,25.1 L472.0,26.2 L472.5,27.3 L472.9,28.4 L473.4,29.5 L473.8,30.6 L474.3,31.7 L474.8,32.9 L475.2,34.0 L475.7,35.1 L476.2,36.2 L476.6,37.3 L477.1,38.4 L477.6,39.5 L478.1,40.6 L478.5,41.7 L479.0,42.8 L479.5,43.9 L480.0,45.0 L480.5,46.0 L481.0,47.1 L481.5,48.2 L482.1,49.3 L482.6,50.4 L483.4,51.3 L484.3,52.1 L485.3,52.8 L486.4,53.6 L487.5,54.0 L488.6,53.9 L489.7,53.5 L490.8,52.7 L491.7,51.8 L492.7,50.9 L493.5,50.0 L494.2,49.1 L495.0,48.2 L495.6,47.3 L496.2,46.3 L496.8,45.2 L497.4,44.2 L498.0,43.1 L498.6,42.1 L499.2,41.0 L499.7,40.0 L500.3,38.9 L500.9,37.9 L501.4,36.8 L502.0,35.8 L502.6,34.7 L503.1,33.6 L503.7,32.6 L504.3,31.5 L504.8,30.5 L505.4,29.4 L506.0,28.3 L506.5,27.3 L507.1,26.2 L507.6,25.1 L508.1,24.1 L508.7,23.0 L509.2,21.9 L509.8,20.8 L510.3,19.8 L510.9,18.7 L511.4,17.6 L512.0,16.6 L512.5,15.5 L513.2,14.5 L513.8,13.6 L514.6,12.7 L515.5,11.8 L516.5,10.9 L517.6,10.3 L518.7,9.9 L519.9,9.7 L521.0,9.6 L522.2,9.7 L523.4,10.0 L524.6,10.6 L525.6,11.2 L526.6,11.9 L527.5,12.6 L528.4,13.4 L529.3,14.3 L530.2,15.1 L531.0,16.0 L531.9,16.9 L532.7,17.8 L533.5,18.7 L534.2,19.6 L534.8,20.6 L535.4,21.7 L535.9,22.8 L536.5,23.8 L537.0,24.9 L537.6,26.0 L538.1,27.0 L538.7,28.1 L539.2,29.2 L539.7,30.3 L540.3,31.3 L540.8,32.4 L541.4,33.5 L541.9,34.5 L542.5,35.6 L543.0,36.7 L543.5,37.7 L544.1,38.8 L544.7,39.9 L545.2,40.9 L545.8,42.0 L546.3,43.1 L546.9,44.1 L547.4,45.2 L548.0,46.3 L548.5,47.3 L549.1,48.4 L549.6,49.5 L550.2,50.5 L550.7,51.6 L551.3,52.7 L551.9,53.7 L552.4,54.8 L553.0,55.9 L553.5,56.9 L554.1,58.0 L554.6,59.1 L555.2,60.1 L555.7,61.2 L556.3,62.2 L556.8,63.3 L557.4,64.4 L558.0,65.4 L558.5,66.5 L559.1,67.6 L559.6,68.6 L560.2,69.7 L560.8,70.8 L561.3,71.8 L561.9,72.9 L562.4,73.9 L563.0,75.0 L563.5,76.1 L564.1,77.1 L564.7,78.2 L565.3,79.2 L565.9,80.3 L566.5,81.3 L567.2,82.3 L567.8,83.3 L568.5,84.3 L569.2,85.3 L569.9,86.3 L570.6,87.2 L571.3,88.2 L572.1,89.1 L572.8,90.1 L573.5,91.0 L574.3,92.0 L575.1,92.9 L575.8,93.8 L576.6,94.7 L577.4,95.6 L578.2,96.5 L579.0,97.4 L579.8,98.3 L580.6,99.2 L581.4,100.1 L582.3,101.0 L583.1,101.8 L583.9,102.7 L584.8,103.5 L585.6,104.4 L586.5,105.2 L587.4,106.0 L588.3,106.8 L589.1,107.7 L590.0,108.5 L590.9,109.3 L591.9,110.0 L592.8,110.8 L593.7,111.5 L594.7,112.2 L595.7,112.9 L596.7,113.6 L597.7,114.2 L598.8,114.9 L599.8,115.4 L600.9,115.9 L602.0,116.4 L603.2,116.8 L604.3,117.1 L605.5,117.4 L606.7,117.6 L607.9,117.7 L609.1,117.7 L610.3,117.6" fill="none" stroke="#ff0000" stroke-width="3.5" stroke-linejoin="round"/>
</g>
<line x1="54.8" y1="8.9" x2="54.8" y2="354.7" stroke="#262626" stroke-width="1.2"/>
<line x1="54.8" y1="354.7" x2="610.2" y2="354.7" stroke="#262626" stroke-width="1.4"/>
<line x1="610.2" y1="8.9" x2="610.2" y2="354.7" stroke="#ff0000" stroke-width="1.2"/>
<line x1="127.2" y1="354.7" x2="127.2" y2="348.7" stroke="#262626" stroke-width="1"/>
<line x1="248.0" y1="354.7" x2="248.0" y2="348.7" stroke="#262626" stroke-width="1"/>
<line x1="368.7" y1="354.7" x2="368.7" y2="348.7" stroke="#262626" stroke-width="1"/>
<line x1="489.5" y1="354.7" x2="489.5" y2="348.7" stroke="#262626" stroke-width="1"/>
<line x1="54.8" y1="8.9" x2="60.8" y2="8.9" stroke="#262626" stroke-width="1"/>
<line x1="54.8" y1="181.8" x2="60.8" y2="181.8" stroke="#262626" stroke-width="1"/>
<line x1="54.8" y1="354.7" x2="60.8" y2="354.7" stroke="#262626" stroke-width="1"/>
<line x1="610.2" y1="8.9" x2="604.2" y2="8.9" stroke="#ff0000" stroke-width="1.2"/>
<line x1="610.2" y1="95.3" x2="604.2" y2="95.3" stroke="#ff0000" stroke-width="1.2"/>
<line x1="610.2" y1="181.8" x2="604.2" y2="181.8" stroke="#ff0000" stroke-width="1.2"/>
<line x1="610.2" y1="268.2" x2="604.2" y2="268.2" stroke="#ff0000" stroke-width="1.2"/>
<line x1="610.2" y1="354.7" x2="604.2" y2="354.7" stroke="#ff0000" stroke-width="1.2"/>
<text transform="translate(126.9,382.9) scale(1,1.08)" text-anchor="middle" font-family="'Liberation Sans', Arial, sans-serif" font-size="21.0" fill="#262626">0.5</text>
<text transform="translate(247.7,382.9) scale(1,1.08)" text-anchor="middle" font-family="'Liberation Sans', Arial, sans-serif" font-size="21.0" fill="#262626">1</text>
<text transform="translate(368.4,382.9) scale(1,1.08)" text-anchor="middle" font-family="'Liberation Sans', Arial, sans-serif" font-size="21.0" fill="#262626">1.5</text>
<text transform="translate(489.2,382.9) scale(1,1.08)" text-anchor="middle" font-family="'Liberation Sans', Arial, sans-serif" font-size="21.0" fill="#262626">2</text>
<text transform="translate(609.9,382.9) scale(1,1.08)" text-anchor="middle" font-family="'Liberation Sans', Arial, sans-serif" font-size="21.0" fill="#262626">2.5</text>
<text transform="translate(45.3,16.7) scale(1,1.08)" text-anchor="end" font-family="'Liberation Sans', Arial, sans-serif" font-size="21.0" fill="#262626">50</text>
<text transform="translate(45.3,189.6) scale(1,1.08)" text-anchor="end" font-family="'Liberation Sans', Arial, sans-serif" font-size="21.0" fill="#262626">0</text>
<text transform="translate(45.3,362.5) scale(1,1.08)" text-anchor="end" font-family="'Liberation Sans', Arial, sans-serif" font-size="21.0" fill="#262626">-50</text>
<text transform="translate(617.8,16.7) scale(1,1.08)" text-anchor="start" font-family="'Liberation Sans', Arial, sans-serif" font-size="21.0" fill="#ff0000">1</text>
<text transform="translate(617.8,103.1) scale(1,1.08)" text-anchor="start" font-family="'Liberation Sans', Arial, sans-serif" font-size="21.0" fill="#ff0000">0.5</text>
<text transform="translate(617.8,189.6) scale(1,1.08)" text-anchor="start" font-family="'Liberation Sans', Arial, sans-serif" font-size="21.0" fill="#ff0000">0</text>
<text transform="translate(617.8,276.1) scale(1,1.08)" text-anchor="start" font-family="'Liberation Sans', Arial, sans-serif" font-size="21.0" fill="#ff0000">-0.5</text>
<text transform="translate(617.8,362.5) scale(1,1.08)" text-anchor="start" font-family="'Liberation Sans', Arial, sans-serif" font-size="21.0" fill="#ff0000">-1</text>
<text transform="translate(310.6,407.0) scale(1,1.03)" text-anchor="middle" font-family="'Liberation Sans', Arial, sans-serif" font-size="22.9" fill="#262626">Frequency (Hz)</text>
<text transform="translate(19.8,182.2) rotate(-90) scale(1,1.01)" text-anchor="middle" font-family="'Liberation Sans', Arial, sans-serif" font-size="22.9" fill="#262626">Ellipticity angle (deg)</text>
<text transform="translate(679.4,183.2) rotate(-90) scale(1,1.0)" text-anchor="middle" font-family="'Liberation Sans', Arial, sans-serif" font-size="22.9" fill="#ff0000">Ellipticity ratio</text>
<rect x="279.8" y="137.6" width="206.09999999999997" height="137.4" fill="#fff" stroke="#3a3a3a" stroke-width="1.3"/>
<line x1="285.6" y1="151.2" x2="342" y2="151.2" stroke="#000000" stroke-width="3.8" stroke-dasharray="15.5 14.8"/>
<text transform="translate(345.6,157.4) scale(1.42,1)" font-family="'Liberation Serif', 'DejaVu Serif', serif" font-style="italic" font-size="17.4" fill="#505050">γ</text>
<text transform="translate(362.2,157.8) scale(1,1.03)" text-anchor="start" font-family="'Liberation Sans', Arial, sans-serif" font-size="18.9" fill="#262626">(Design I)</text>
<line x1="285.6" y1="173.16" x2="342" y2="173.16" stroke="#000000" stroke-width="3.8" stroke-dasharray="15.5 3.2 8 3.6"/>
<text transform="translate(345.6,179.4) scale(1.42,1)" font-family="'Liberation Serif', 'DejaVu Serif', serif" font-style="italic" font-size="17.4" fill="#505050">γ</text>
<text transform="translate(362.2,179.8) scale(1,1.03)" text-anchor="start" font-family="'Liberation Sans', Arial, sans-serif" font-size="18.9" fill="#262626">(Design II)</text>
<line x1="285.6" y1="195.12" x2="342" y2="195.12" stroke="#000000" stroke-width="3.8"/>
<text transform="translate(345.6,201.3) scale(1.42,1)" font-family="'Liberation Serif', 'DejaVu Serif', serif" font-style="italic" font-size="17.4" fill="#505050">γ</text>
<text transform="translate(362.2,201.7) scale(1,1.03)" text-anchor="start" font-family="'Liberation Sans', Arial, sans-serif" font-size="18.9" fill="#262626">(Final Design)</text>
<line x1="285.6" y1="217.07999999999998" x2="342" y2="217.07999999999998" stroke="#ff0000" stroke-width="3.8" stroke-dasharray="15.5 14.8"/>
<text transform="translate(346.5,223.7) scale(1,1.03)" text-anchor="start" font-family="'Liberation Sans', Arial, sans-serif" font-size="18.9" fill="#262626">e</text>
<text transform="translate(362.2,223.7) scale(1,1.03)" text-anchor="start" font-family="'Liberation Sans', Arial, sans-serif" font-size="18.9" fill="#262626">(Design I)</text>
<line x1="285.6" y1="239.04" x2="342" y2="239.04" stroke="#ff0000" stroke-width="3.8" stroke-dasharray="15.5 3.2 8 3.6"/>
<text transform="translate(346.5,245.6) scale(1,1.03)" text-anchor="start" font-family="'Liberation Sans', Arial, sans-serif" font-size="18.9" fill="#262626">e</text>
<text transform="translate(367.5,245.6) scale(1,1.03)" text-anchor="start" font-family="'Liberation Sans', Arial, sans-serif" font-size="18.9" fill="#262626">(Design II)</text>
<line x1="285.6" y1="261.0" x2="342" y2="261.0" stroke="#ff0000" stroke-width="3.8"/>
<text transform="translate(346.5,267.6) scale(1,1.03)" text-anchor="start" font-family="'Liberation Sans', Arial, sans-serif" font-size="18.9" fill="#262626">e</text>
<text transform="translate(362.2,267.6) scale(1,1.03)" text-anchor="start" font-family="'Liberation Sans', Arial, sans-serif" font-size="18.9" fill="#262626">(Final Design)</text>
</svg>
</body></html>
